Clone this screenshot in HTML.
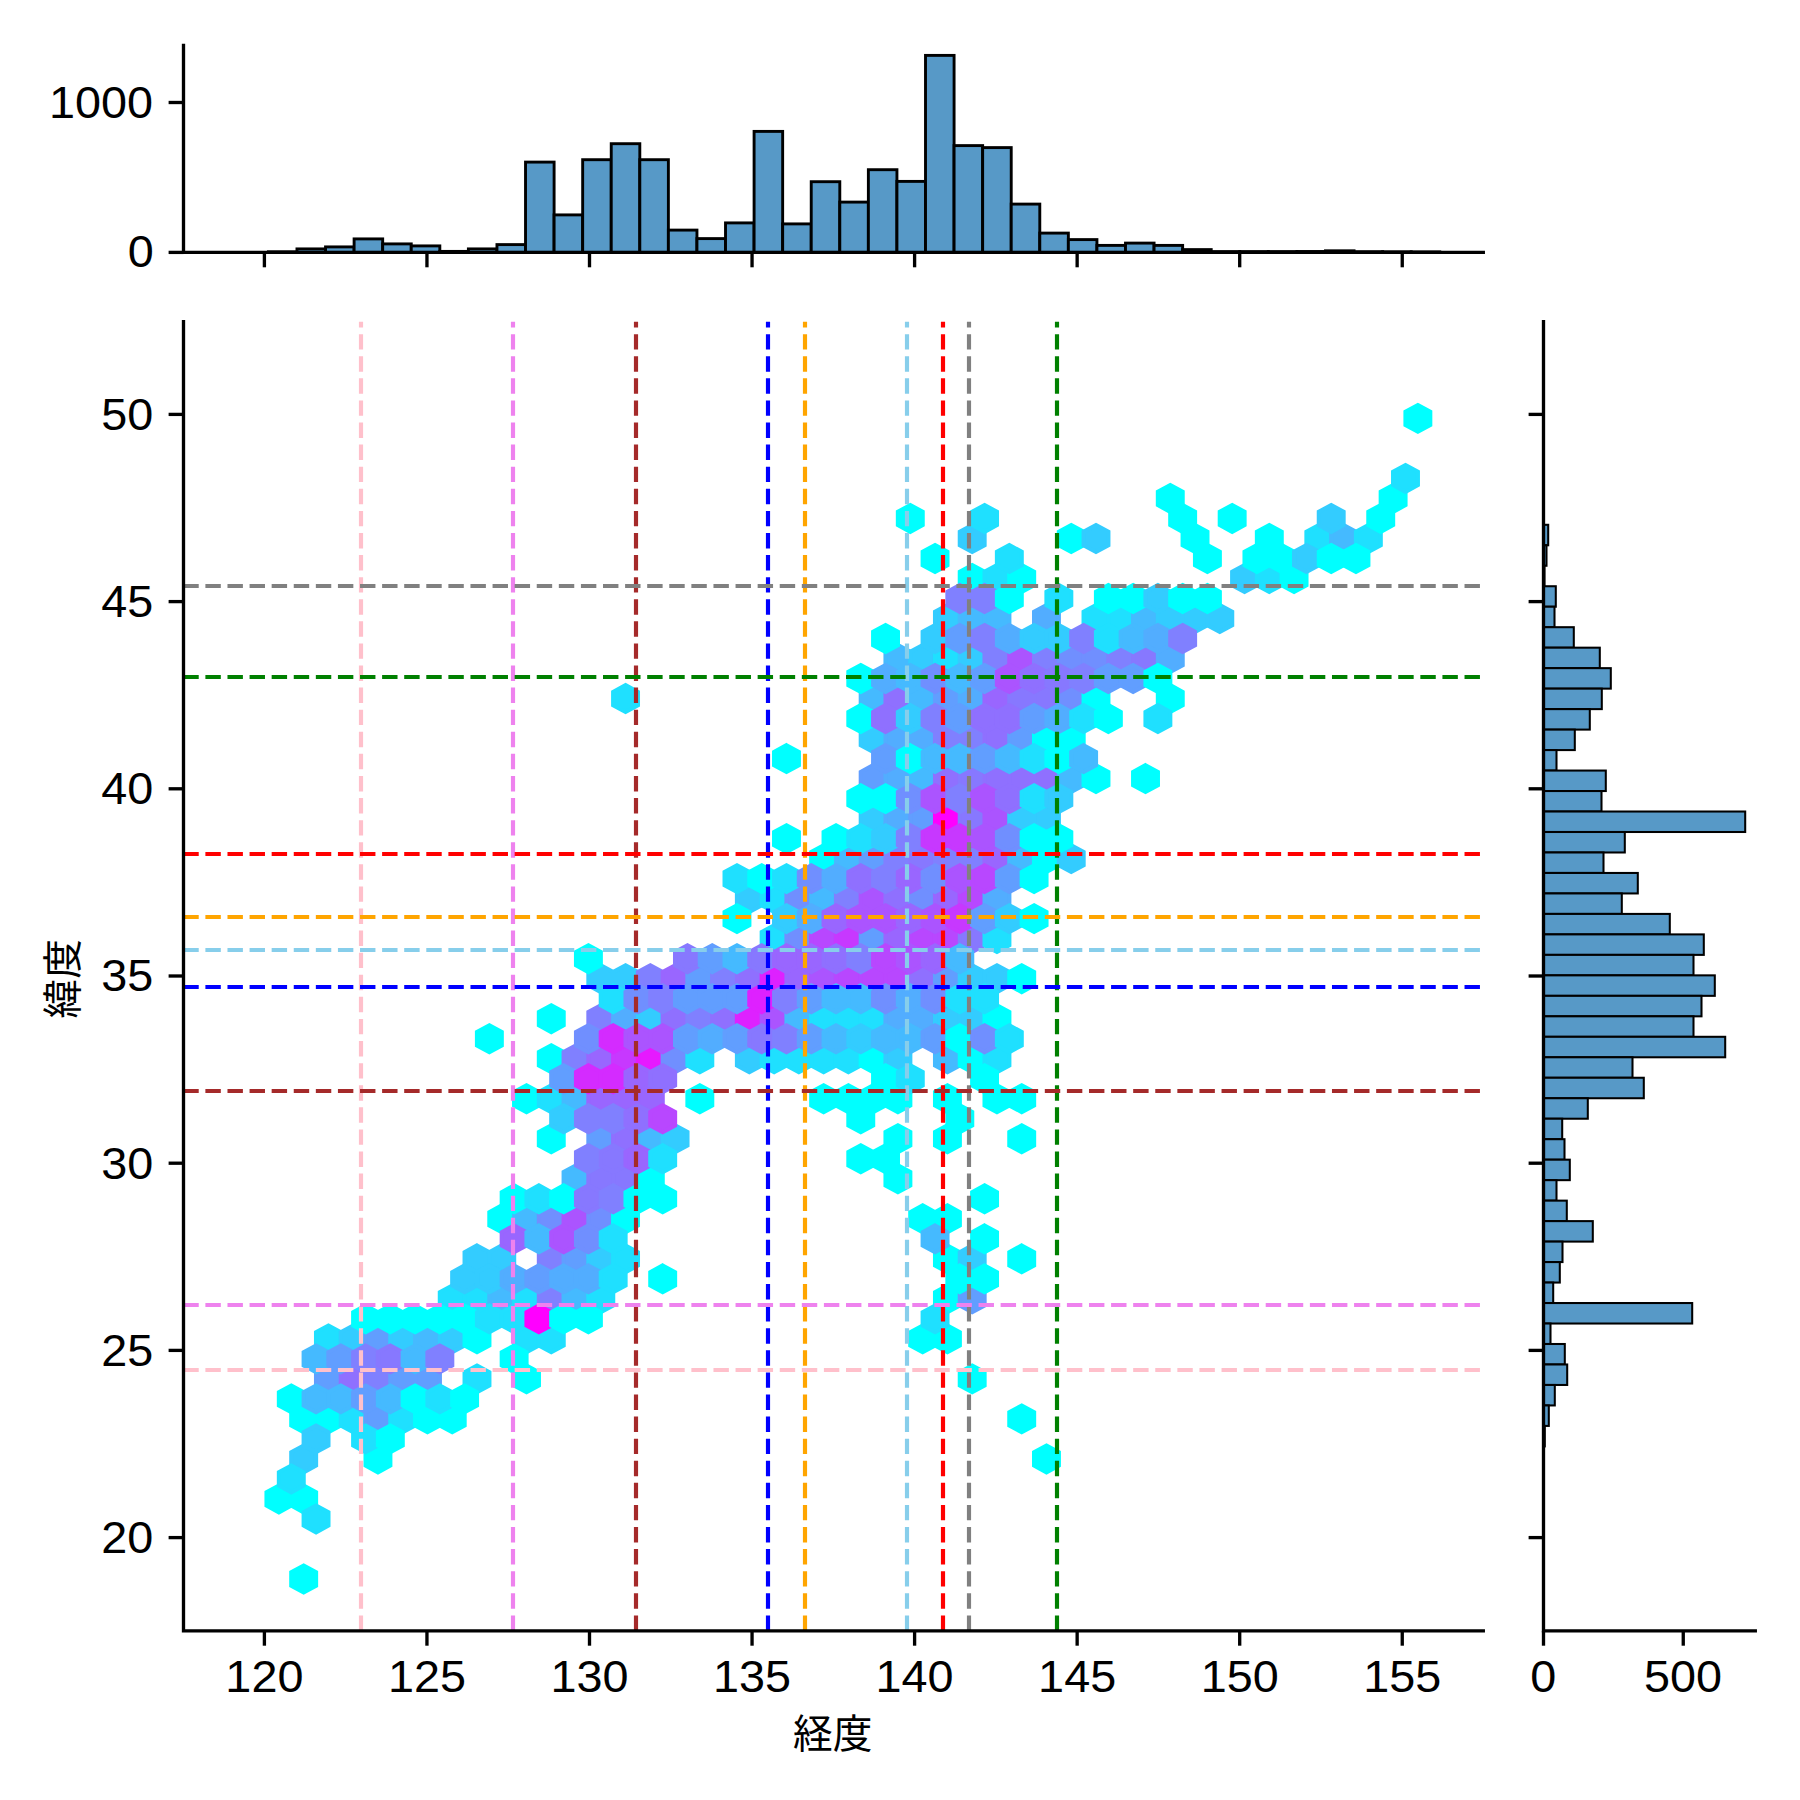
<!DOCTYPE html>
<html lang="ja"><head><meta charset="utf-8"><title>経度 緯度 jointplot</title>
<style>html,body{margin:0;padding:0;background:#fff}svg{display:block}text{font-family:"Liberation Sans", "Noto Sans CJK JP", sans-serif;fill:#000}</style></head><body>
<svg width="1800" height="1800" viewBox="0 0 1800 1800">
<rect width="1800" height="1800" fill="#ffffff"/>
<g stroke-width="4.17" stroke-linejoin="miter">
<path d="M278.91 1485.60l12.38 6.67v13.34l-12.38 6.67l-12.38 -6.67v-13.34z" fill="#00ffff" stroke="#00ffff"/>
<path d="M303.67 1565.64l12.38 6.67v13.34l-12.38 6.67l-12.38 -6.67v-13.34z" fill="#00ffff" stroke="#00ffff"/>
<path d="M303.67 1485.60l12.38 6.67v13.34l-12.38 6.67l-12.38 -6.67v-13.34z" fill="#00ffff" stroke="#00ffff"/>
<path d="M303.67 1445.58l12.38 6.67v13.34l-12.38 6.67l-12.38 -6.67v-13.34z" fill="#33ccff" stroke="#33ccff"/>
<path d="M303.67 1405.56l12.38 6.67v13.34l-12.38 6.67l-12.38 -6.67v-13.34z" fill="#00ffff" stroke="#00ffff"/>
<path d="M328.43 1405.56l12.38 6.67v13.34l-12.38 6.67l-12.38 -6.67v-13.34z" fill="#00ffff" stroke="#00ffff"/>
<path d="M328.43 1365.54l12.38 6.67v13.34l-12.38 6.67l-12.38 -6.67v-13.34z" fill="#619eff" stroke="#619eff"/>
<path d="M328.43 1325.52l12.38 6.67v13.34l-12.38 6.67l-12.38 -6.67v-13.34z" fill="#1fe0ff" stroke="#1fe0ff"/>
<path d="M353.19 1405.56l12.38 6.67v13.34l-12.38 6.67l-12.38 -6.67v-13.34z" fill="#1fe0ff" stroke="#1fe0ff"/>
<path d="M353.19 1365.54l12.38 6.67v13.34l-12.38 6.67l-12.38 -6.67v-13.34z" fill="#8f70ff" stroke="#8f70ff"/>
<path d="M353.19 1325.52l12.38 6.67v13.34l-12.38 6.67l-12.38 -6.67v-13.34z" fill="#33ccff" stroke="#33ccff"/>
<path d="M377.95 1445.58l12.38 6.67v13.34l-12.38 6.67l-12.38 -6.67v-13.34z" fill="#00ffff" stroke="#00ffff"/>
<path d="M377.95 1405.56l12.38 6.67v13.34l-12.38 6.67l-12.38 -6.67v-13.34z" fill="#619eff" stroke="#619eff"/>
<path d="M377.95 1365.54l12.38 6.67v13.34l-12.38 6.67l-12.38 -6.67v-13.34z" fill="#8080ff" stroke="#8080ff"/>
<path d="M377.95 1325.52l12.38 6.67v13.34l-12.38 6.67l-12.38 -6.67v-13.34z" fill="#619eff" stroke="#619eff"/>
<path d="M402.71 1405.56l12.38 6.67v13.34l-12.38 6.67l-12.38 -6.67v-13.34z" fill="#1fe0ff" stroke="#1fe0ff"/>
<path d="M402.71 1365.54l12.38 6.67v13.34l-12.38 6.67l-12.38 -6.67v-13.34z" fill="#619eff" stroke="#619eff"/>
<path d="M402.71 1325.52l12.38 6.67v13.34l-12.38 6.67l-12.38 -6.67v-13.34z" fill="#33ccff" stroke="#33ccff"/>
<path d="M427.47 1405.56l12.38 6.67v13.34l-12.38 6.67l-12.38 -6.67v-13.34z" fill="#00ffff" stroke="#00ffff"/>
<path d="M427.47 1365.54l12.38 6.67v13.34l-12.38 6.67l-12.38 -6.67v-13.34z" fill="#619eff" stroke="#619eff"/>
<path d="M427.47 1325.52l12.38 6.67v13.34l-12.38 6.67l-12.38 -6.67v-13.34z" fill="#45baff" stroke="#45baff"/>
<path d="M452.23 1405.56l12.38 6.67v13.34l-12.38 6.67l-12.38 -6.67v-13.34z" fill="#00ffff" stroke="#00ffff"/>
<path d="M452.23 1325.52l12.38 6.67v13.34l-12.38 6.67l-12.38 -6.67v-13.34z" fill="#33ccff" stroke="#33ccff"/>
<path d="M452.23 1285.50l12.38 6.67v13.34l-12.38 6.67l-12.38 -6.67v-13.34z" fill="#1fe0ff" stroke="#1fe0ff"/>
<path d="M476.99 1365.54l12.38 6.67v13.34l-12.38 6.67l-12.38 -6.67v-13.34z" fill="#1fe0ff" stroke="#1fe0ff"/>
<path d="M476.99 1325.52l12.38 6.67v13.34l-12.38 6.67l-12.38 -6.67v-13.34z" fill="#00ffff" stroke="#00ffff"/>
<path d="M476.99 1285.50l12.38 6.67v13.34l-12.38 6.67l-12.38 -6.67v-13.34z" fill="#1fe0ff" stroke="#1fe0ff"/>
<path d="M476.99 1245.48l12.38 6.67v13.34l-12.38 6.67l-12.38 -6.67v-13.34z" fill="#33ccff" stroke="#33ccff"/>
<path d="M501.75 1285.50l12.38 6.67v13.34l-12.38 6.67l-12.38 -6.67v-13.34z" fill="#45baff" stroke="#45baff"/>
<path d="M501.75 1245.48l12.38 6.67v13.34l-12.38 6.67l-12.38 -6.67v-13.34z" fill="#33ccff" stroke="#33ccff"/>
<path d="M501.75 1205.46l12.38 6.67v13.34l-12.38 6.67l-12.38 -6.67v-13.34z" fill="#00ffff" stroke="#00ffff"/>
<path d="M526.51 1365.54l12.38 6.67v13.34l-12.38 6.67l-12.38 -6.67v-13.34z" fill="#00ffff" stroke="#00ffff"/>
<path d="M526.51 1325.52l12.38 6.67v13.34l-12.38 6.67l-12.38 -6.67v-13.34z" fill="#1fe0ff" stroke="#1fe0ff"/>
<path d="M526.51 1285.50l12.38 6.67v13.34l-12.38 6.67l-12.38 -6.67v-13.34z" fill="#1fe0ff" stroke="#1fe0ff"/>
<path d="M526.51 1205.46l12.38 6.67v13.34l-12.38 6.67l-12.38 -6.67v-13.34z" fill="#45baff" stroke="#45baff"/>
<path d="M526.51 1085.40l12.38 6.67v13.34l-12.38 6.67l-12.38 -6.67v-13.34z" fill="#00ffff" stroke="#00ffff"/>
<path d="M551.27 1325.52l12.38 6.67v13.34l-12.38 6.67l-12.38 -6.67v-13.34z" fill="#1fe0ff" stroke="#1fe0ff"/>
<path d="M551.27 1285.50l12.38 6.67v13.34l-12.38 6.67l-12.38 -6.67v-13.34z" fill="#8080ff" stroke="#8080ff"/>
<path d="M551.27 1245.48l12.38 6.67v13.34l-12.38 6.67l-12.38 -6.67v-13.34z" fill="#8080ff" stroke="#8080ff"/>
<path d="M551.27 1205.46l12.38 6.67v13.34l-12.38 6.67l-12.38 -6.67v-13.34z" fill="#708fff" stroke="#708fff"/>
<path d="M551.27 1125.42l12.38 6.67v13.34l-12.38 6.67l-12.38 -6.67v-13.34z" fill="#00ffff" stroke="#00ffff"/>
<path d="M551.27 1085.40l12.38 6.67v13.34l-12.38 6.67l-12.38 -6.67v-13.34z" fill="#1fe0ff" stroke="#1fe0ff"/>
<path d="M551.27 1045.38l12.38 6.67v13.34l-12.38 6.67l-12.38 -6.67v-13.34z" fill="#00ffff" stroke="#00ffff"/>
<path d="M551.27 1005.36l12.38 6.67v13.34l-12.38 6.67l-12.38 -6.67v-13.34z" fill="#00ffff" stroke="#00ffff"/>
<path d="M576.03 1285.50l12.38 6.67v13.34l-12.38 6.67l-12.38 -6.67v-13.34z" fill="#45baff" stroke="#45baff"/>
<path d="M576.03 1245.48l12.38 6.67v13.34l-12.38 6.67l-12.38 -6.67v-13.34z" fill="#619eff" stroke="#619eff"/>
<path d="M576.03 1205.46l12.38 6.67v13.34l-12.38 6.67l-12.38 -6.67v-13.34z" fill="#ab54ff" stroke="#ab54ff"/>
<path d="M576.03 1165.44l12.38 6.67v13.34l-12.38 6.67l-12.38 -6.67v-13.34z" fill="#45baff" stroke="#45baff"/>
<path d="M576.03 1085.40l12.38 6.67v13.34l-12.38 6.67l-12.38 -6.67v-13.34z" fill="#45baff" stroke="#45baff"/>
<path d="M576.03 1045.38l12.38 6.67v13.34l-12.38 6.67l-12.38 -6.67v-13.34z" fill="#8080ff" stroke="#8080ff"/>
<path d="M600.79 1285.50l12.38 6.67v13.34l-12.38 6.67l-12.38 -6.67v-13.34z" fill="#1fe0ff" stroke="#1fe0ff"/>
<path d="M600.79 1245.48l12.38 6.67v13.34l-12.38 6.67l-12.38 -6.67v-13.34z" fill="#33ccff" stroke="#33ccff"/>
<path d="M600.79 1205.46l12.38 6.67v13.34l-12.38 6.67l-12.38 -6.67v-13.34z" fill="#708fff" stroke="#708fff"/>
<path d="M600.79 1165.44l12.38 6.67v13.34l-12.38 6.67l-12.38 -6.67v-13.34z" fill="#8778ff" stroke="#8778ff"/>
<path d="M600.79 1125.42l12.38 6.67v13.34l-12.38 6.67l-12.38 -6.67v-13.34z" fill="#619eff" stroke="#619eff"/>
<path d="M600.79 1085.40l12.38 6.67v13.34l-12.38 6.67l-12.38 -6.67v-13.34z" fill="#9966ff" stroke="#9966ff"/>
<path d="M600.79 1045.38l12.38 6.67v13.34l-12.38 6.67l-12.38 -6.67v-13.34z" fill="#9966ff" stroke="#9966ff"/>
<path d="M600.79 1005.36l12.38 6.67v13.34l-12.38 6.67l-12.38 -6.67v-13.34z" fill="#8080ff" stroke="#8080ff"/>
<path d="M600.79 965.34l12.38 6.67v13.34l-12.38 6.67l-12.38 -6.67v-13.34z" fill="#33ccff" stroke="#33ccff"/>
<path d="M625.55 1245.48l12.38 6.67v13.34l-12.38 6.67l-12.38 -6.67v-13.34z" fill="#1fe0ff" stroke="#1fe0ff"/>
<path d="M625.55 1205.46l12.38 6.67v13.34l-12.38 6.67l-12.38 -6.67v-13.34z" fill="#00ffff" stroke="#00ffff"/>
<path d="M625.55 1165.44l12.38 6.67v13.34l-12.38 6.67l-12.38 -6.67v-13.34z" fill="#8778ff" stroke="#8778ff"/>
<path d="M625.55 1125.42l12.38 6.67v13.34l-12.38 6.67l-12.38 -6.67v-13.34z" fill="#8f70ff" stroke="#8f70ff"/>
<path d="M625.55 1085.40l12.38 6.67v13.34l-12.38 6.67l-12.38 -6.67v-13.34z" fill="#9966ff" stroke="#9966ff"/>
<path d="M625.55 1045.38l12.38 6.67v13.34l-12.38 6.67l-12.38 -6.67v-13.34z" fill="#c738ff" stroke="#c738ff"/>
<path d="M625.55 1005.36l12.38 6.67v13.34l-12.38 6.67l-12.38 -6.67v-13.34z" fill="#52adff" stroke="#52adff"/>
<path d="M625.55 965.34l12.38 6.67v13.34l-12.38 6.67l-12.38 -6.67v-13.34z" fill="#33ccff" stroke="#33ccff"/>
<path d="M625.55 685.20l12.38 6.67v13.34l-12.38 6.67l-12.38 -6.67v-13.34z" fill="#1fe0ff" stroke="#1fe0ff"/>
<path d="M650.31 1165.44l12.38 6.67v13.34l-12.38 6.67l-12.38 -6.67v-13.34z" fill="#00ffff" stroke="#00ffff"/>
<path d="M650.31 1125.42l12.38 6.67v13.34l-12.38 6.67l-12.38 -6.67v-13.34z" fill="#45baff" stroke="#45baff"/>
<path d="M650.31 1085.40l12.38 6.67v13.34l-12.38 6.67l-12.38 -6.67v-13.34z" fill="#9966ff" stroke="#9966ff"/>
<path d="M650.31 1045.38l12.38 6.67v13.34l-12.38 6.67l-12.38 -6.67v-13.34z" fill="#e619ff" stroke="#e619ff"/>
<path d="M650.31 1005.36l12.38 6.67v13.34l-12.38 6.67l-12.38 -6.67v-13.34z" fill="#33ccff" stroke="#33ccff"/>
<path d="M650.31 965.34l12.38 6.67v13.34l-12.38 6.67l-12.38 -6.67v-13.34z" fill="#8080ff" stroke="#8080ff"/>
<path d="M675.07 1125.42l12.38 6.67v13.34l-12.38 6.67l-12.38 -6.67v-13.34z" fill="#33ccff" stroke="#33ccff"/>
<path d="M675.07 1045.38l12.38 6.67v13.34l-12.38 6.67l-12.38 -6.67v-13.34z" fill="#708fff" stroke="#708fff"/>
<path d="M675.07 1005.36l12.38 6.67v13.34l-12.38 6.67l-12.38 -6.67v-13.34z" fill="#8f70ff" stroke="#8f70ff"/>
<path d="M675.07 965.34l12.38 6.67v13.34l-12.38 6.67l-12.38 -6.67v-13.34z" fill="#9966ff" stroke="#9966ff"/>
<path d="M699.83 1085.40l12.38 6.67v13.34l-12.38 6.67l-12.38 -6.67v-13.34z" fill="#00ffff" stroke="#00ffff"/>
<path d="M699.83 1045.38l12.38 6.67v13.34l-12.38 6.67l-12.38 -6.67v-13.34z" fill="#1fe0ff" stroke="#1fe0ff"/>
<path d="M699.83 1005.36l12.38 6.67v13.34l-12.38 6.67l-12.38 -6.67v-13.34z" fill="#8080ff" stroke="#8080ff"/>
<path d="M699.83 965.34l12.38 6.67v13.34l-12.38 6.67l-12.38 -6.67v-13.34z" fill="#619eff" stroke="#619eff"/>
<path d="M724.59 1005.36l12.38 6.67v13.34l-12.38 6.67l-12.38 -6.67v-13.34z" fill="#8f70ff" stroke="#8f70ff"/>
<path d="M724.59 965.34l12.38 6.67v13.34l-12.38 6.67l-12.38 -6.67v-13.34z" fill="#8080ff" stroke="#8080ff"/>
<path d="M749.35 1045.38l12.38 6.67v13.34l-12.38 6.67l-12.38 -6.67v-13.34z" fill="#33ccff" stroke="#33ccff"/>
<path d="M749.35 1005.36l12.38 6.67v13.34l-12.38 6.67l-12.38 -6.67v-13.34z" fill="#de21ff" stroke="#de21ff"/>
<path d="M749.35 965.34l12.38 6.67v13.34l-12.38 6.67l-12.38 -6.67v-13.34z" fill="#8f70ff" stroke="#8f70ff"/>
<path d="M749.35 885.30l12.38 6.67v13.34l-12.38 6.67l-12.38 -6.67v-13.34z" fill="#33ccff" stroke="#33ccff"/>
<path d="M774.11 1045.38l12.38 6.67v13.34l-12.38 6.67l-12.38 -6.67v-13.34z" fill="#1fe0ff" stroke="#1fe0ff"/>
<path d="M774.11 1005.36l12.38 6.67v13.34l-12.38 6.67l-12.38 -6.67v-13.34z" fill="#ab54ff" stroke="#ab54ff"/>
<path d="M774.11 965.34l12.38 6.67v13.34l-12.38 6.67l-12.38 -6.67v-13.34z" fill="#de21ff" stroke="#de21ff"/>
<path d="M774.11 925.32l12.38 6.67v13.34l-12.38 6.67l-12.38 -6.67v-13.34z" fill="#1fe0ff" stroke="#1fe0ff"/>
<path d="M774.11 885.30l12.38 6.67v13.34l-12.38 6.67l-12.38 -6.67v-13.34z" fill="#1fe0ff" stroke="#1fe0ff"/>
<path d="M798.87 1045.38l12.38 6.67v13.34l-12.38 6.67l-12.38 -6.67v-13.34z" fill="#1fe0ff" stroke="#1fe0ff"/>
<path d="M798.87 1005.36l12.38 6.67v13.34l-12.38 6.67l-12.38 -6.67v-13.34z" fill="#45baff" stroke="#45baff"/>
<path d="M798.87 965.34l12.38 6.67v13.34l-12.38 6.67l-12.38 -6.67v-13.34z" fill="#9966ff" stroke="#9966ff"/>
<path d="M798.87 925.32l12.38 6.67v13.34l-12.38 6.67l-12.38 -6.67v-13.34z" fill="#708fff" stroke="#708fff"/>
<path d="M798.87 885.30l12.38 6.67v13.34l-12.38 6.67l-12.38 -6.67v-13.34z" fill="#708fff" stroke="#708fff"/>
<path d="M823.63 1085.40l12.38 6.67v13.34l-12.38 6.67l-12.38 -6.67v-13.34z" fill="#00ffff" stroke="#00ffff"/>
<path d="M823.63 1045.38l12.38 6.67v13.34l-12.38 6.67l-12.38 -6.67v-13.34z" fill="#1fe0ff" stroke="#1fe0ff"/>
<path d="M823.63 1005.36l12.38 6.67v13.34l-12.38 6.67l-12.38 -6.67v-13.34z" fill="#1fe0ff" stroke="#1fe0ff"/>
<path d="M823.63 965.34l12.38 6.67v13.34l-12.38 6.67l-12.38 -6.67v-13.34z" fill="#ab54ff" stroke="#ab54ff"/>
<path d="M823.63 925.32l12.38 6.67v13.34l-12.38 6.67l-12.38 -6.67v-13.34z" fill="#b847ff" stroke="#b847ff"/>
<path d="M823.63 885.30l12.38 6.67v13.34l-12.38 6.67l-12.38 -6.67v-13.34z" fill="#45baff" stroke="#45baff"/>
<path d="M823.63 845.28l12.38 6.67v13.34l-12.38 6.67l-12.38 -6.67v-13.34z" fill="#00ffff" stroke="#00ffff"/>
<path d="M848.39 1085.40l12.38 6.67v13.34l-12.38 6.67l-12.38 -6.67v-13.34z" fill="#00ffff" stroke="#00ffff"/>
<path d="M848.39 1045.38l12.38 6.67v13.34l-12.38 6.67l-12.38 -6.67v-13.34z" fill="#1fe0ff" stroke="#1fe0ff"/>
<path d="M848.39 1005.36l12.38 6.67v13.34l-12.38 6.67l-12.38 -6.67v-13.34z" fill="#1fe0ff" stroke="#1fe0ff"/>
<path d="M848.39 965.34l12.38 6.67v13.34l-12.38 6.67l-12.38 -6.67v-13.34z" fill="#b847ff" stroke="#b847ff"/>
<path d="M848.39 925.32l12.38 6.67v13.34l-12.38 6.67l-12.38 -6.67v-13.34z" fill="#c738ff" stroke="#c738ff"/>
<path d="M848.39 885.30l12.38 6.67v13.34l-12.38 6.67l-12.38 -6.67v-13.34z" fill="#8080ff" stroke="#8080ff"/>
<path d="M848.39 845.28l12.38 6.67v13.34l-12.38 6.67l-12.38 -6.67v-13.34z" fill="#45baff" stroke="#45baff"/>
<path d="M873.15 1085.40l12.38 6.67v13.34l-12.38 6.67l-12.38 -6.67v-13.34z" fill="#00ffff" stroke="#00ffff"/>
<path d="M873.15 1045.38l12.38 6.67v13.34l-12.38 6.67l-12.38 -6.67v-13.34z" fill="#00ffff" stroke="#00ffff"/>
<path d="M873.15 1005.36l12.38 6.67v13.34l-12.38 6.67l-12.38 -6.67v-13.34z" fill="#1fe0ff" stroke="#1fe0ff"/>
<path d="M873.15 965.34l12.38 6.67v13.34l-12.38 6.67l-12.38 -6.67v-13.34z" fill="#b847ff" stroke="#b847ff"/>
<path d="M873.15 925.32l12.38 6.67v13.34l-12.38 6.67l-12.38 -6.67v-13.34z" fill="#619eff" stroke="#619eff"/>
<path d="M873.15 885.30l12.38 6.67v13.34l-12.38 6.67l-12.38 -6.67v-13.34z" fill="#ab54ff" stroke="#ab54ff"/>
<path d="M873.15 845.28l12.38 6.67v13.34l-12.38 6.67l-12.38 -6.67v-13.34z" fill="#619eff" stroke="#619eff"/>
<path d="M873.15 805.26l12.38 6.67v13.34l-12.38 6.67l-12.38 -6.67v-13.34z" fill="#33ccff" stroke="#33ccff"/>
<path d="M873.15 765.24l12.38 6.67v13.34l-12.38 6.67l-12.38 -6.67v-13.34z" fill="#619eff" stroke="#619eff"/>
<path d="M873.15 725.22l12.38 6.67v13.34l-12.38 6.67l-12.38 -6.67v-13.34z" fill="#33ccff" stroke="#33ccff"/>
<path d="M873.15 685.20l12.38 6.67v13.34l-12.38 6.67l-12.38 -6.67v-13.34z" fill="#45baff" stroke="#45baff"/>
<path d="M897.91 1165.44l12.38 6.67v13.34l-12.38 6.67l-12.38 -6.67v-13.34z" fill="#00ffff" stroke="#00ffff"/>
<path d="M897.91 1125.42l12.38 6.67v13.34l-12.38 6.67l-12.38 -6.67v-13.34z" fill="#00ffff" stroke="#00ffff"/>
<path d="M897.91 1085.40l12.38 6.67v13.34l-12.38 6.67l-12.38 -6.67v-13.34z" fill="#00ffff" stroke="#00ffff"/>
<path d="M897.91 1045.38l12.38 6.67v13.34l-12.38 6.67l-12.38 -6.67v-13.34z" fill="#33ccff" stroke="#33ccff"/>
<path d="M897.91 1005.36l12.38 6.67v13.34l-12.38 6.67l-12.38 -6.67v-13.34z" fill="#52adff" stroke="#52adff"/>
<path d="M897.91 965.34l12.38 6.67v13.34l-12.38 6.67l-12.38 -6.67v-13.34z" fill="#b847ff" stroke="#b847ff"/>
<path d="M897.91 925.32l12.38 6.67v13.34l-12.38 6.67l-12.38 -6.67v-13.34z" fill="#9966ff" stroke="#9966ff"/>
<path d="M897.91 885.30l12.38 6.67v13.34l-12.38 6.67l-12.38 -6.67v-13.34z" fill="#8f70ff" stroke="#8f70ff"/>
<path d="M897.91 845.28l12.38 6.67v13.34l-12.38 6.67l-12.38 -6.67v-13.34z" fill="#8080ff" stroke="#8080ff"/>
<path d="M897.91 805.26l12.38 6.67v13.34l-12.38 6.67l-12.38 -6.67v-13.34z" fill="#52adff" stroke="#52adff"/>
<path d="M897.91 765.24l12.38 6.67v13.34l-12.38 6.67l-12.38 -6.67v-13.34z" fill="#52adff" stroke="#52adff"/>
<path d="M897.91 725.22l12.38 6.67v13.34l-12.38 6.67l-12.38 -6.67v-13.34z" fill="#52adff" stroke="#52adff"/>
<path d="M897.91 685.20l12.38 6.67v13.34l-12.38 6.67l-12.38 -6.67v-13.34z" fill="#8f70ff" stroke="#8f70ff"/>
<path d="M897.91 645.18l12.38 6.67v13.34l-12.38 6.67l-12.38 -6.67v-13.34z" fill="#45baff" stroke="#45baff"/>
<path d="M922.67 1325.52l12.38 6.67v13.34l-12.38 6.67l-12.38 -6.67v-13.34z" fill="#00ffff" stroke="#00ffff"/>
<path d="M922.67 1205.46l12.38 6.67v13.34l-12.38 6.67l-12.38 -6.67v-13.34z" fill="#00ffff" stroke="#00ffff"/>
<path d="M922.67 1005.36l12.38 6.67v13.34l-12.38 6.67l-12.38 -6.67v-13.34z" fill="#52adff" stroke="#52adff"/>
<path d="M922.67 965.34l12.38 6.67v13.34l-12.38 6.67l-12.38 -6.67v-13.34z" fill="#8f70ff" stroke="#8f70ff"/>
<path d="M922.67 925.32l12.38 6.67v13.34l-12.38 6.67l-12.38 -6.67v-13.34z" fill="#b847ff" stroke="#b847ff"/>
<path d="M922.67 885.30l12.38 6.67v13.34l-12.38 6.67l-12.38 -6.67v-13.34z" fill="#708fff" stroke="#708fff"/>
<path d="M922.67 845.28l12.38 6.67v13.34l-12.38 6.67l-12.38 -6.67v-13.34z" fill="#8778ff" stroke="#8778ff"/>
<path d="M922.67 805.26l12.38 6.67v13.34l-12.38 6.67l-12.38 -6.67v-13.34z" fill="#619eff" stroke="#619eff"/>
<path d="M922.67 765.24l12.38 6.67v13.34l-12.38 6.67l-12.38 -6.67v-13.34z" fill="#45baff" stroke="#45baff"/>
<path d="M922.67 725.22l12.38 6.67v13.34l-12.38 6.67l-12.38 -6.67v-13.34z" fill="#52adff" stroke="#52adff"/>
<path d="M922.67 685.20l12.38 6.67v13.34l-12.38 6.67l-12.38 -6.67v-13.34z" fill="#45baff" stroke="#45baff"/>
<path d="M922.67 645.18l12.38 6.67v13.34l-12.38 6.67l-12.38 -6.67v-13.34z" fill="#33ccff" stroke="#33ccff"/>
<path d="M947.43 1325.52l12.38 6.67v13.34l-12.38 6.67l-12.38 -6.67v-13.34z" fill="#00ffff" stroke="#00ffff"/>
<path d="M947.43 1285.50l12.38 6.67v13.34l-12.38 6.67l-12.38 -6.67v-13.34z" fill="#00ffff" stroke="#00ffff"/>
<path d="M947.43 1245.48l12.38 6.67v13.34l-12.38 6.67l-12.38 -6.67v-13.34z" fill="#00ffff" stroke="#00ffff"/>
<path d="M947.43 1205.46l12.38 6.67v13.34l-12.38 6.67l-12.38 -6.67v-13.34z" fill="#00ffff" stroke="#00ffff"/>
<path d="M947.43 1125.42l12.38 6.67v13.34l-12.38 6.67l-12.38 -6.67v-13.34z" fill="#00ffff" stroke="#00ffff"/>
<path d="M947.43 1085.40l12.38 6.67v13.34l-12.38 6.67l-12.38 -6.67v-13.34z" fill="#00ffff" stroke="#00ffff"/>
<path d="M947.43 1045.38l12.38 6.67v13.34l-12.38 6.67l-12.38 -6.67v-13.34z" fill="#45baff" stroke="#45baff"/>
<path d="M947.43 1005.36l12.38 6.67v13.34l-12.38 6.67l-12.38 -6.67v-13.34z" fill="#33ccff" stroke="#33ccff"/>
<path d="M947.43 965.34l12.38 6.67v13.34l-12.38 6.67l-12.38 -6.67v-13.34z" fill="#619eff" stroke="#619eff"/>
<path d="M947.43 925.32l12.38 6.67v13.34l-12.38 6.67l-12.38 -6.67v-13.34z" fill="#b847ff" stroke="#b847ff"/>
<path d="M947.43 885.30l12.38 6.67v13.34l-12.38 6.67l-12.38 -6.67v-13.34z" fill="#9966ff" stroke="#9966ff"/>
<path d="M947.43 845.28l12.38 6.67v13.34l-12.38 6.67l-12.38 -6.67v-13.34z" fill="#8080ff" stroke="#8080ff"/>
<path d="M947.43 805.26l12.38 6.67v13.34l-12.38 6.67l-12.38 -6.67v-13.34z" fill="#ff00ff" stroke="#ff00ff"/>
<path d="M947.43 765.24l12.38 6.67v13.34l-12.38 6.67l-12.38 -6.67v-13.34z" fill="#8f70ff" stroke="#8f70ff"/>
<path d="M947.43 725.22l12.38 6.67v13.34l-12.38 6.67l-12.38 -6.67v-13.34z" fill="#8080ff" stroke="#8080ff"/>
<path d="M947.43 685.20l12.38 6.67v13.34l-12.38 6.67l-12.38 -6.67v-13.34z" fill="#619eff" stroke="#619eff"/>
<path d="M947.43 645.18l12.38 6.67v13.34l-12.38 6.67l-12.38 -6.67v-13.34z" fill="#1fe0ff" stroke="#1fe0ff"/>
<path d="M947.43 605.16l12.38 6.67v13.34l-12.38 6.67l-12.38 -6.67v-13.34z" fill="#33ccff" stroke="#33ccff"/>
<path d="M972.19 1365.54l12.38 6.67v13.34l-12.38 6.67l-12.38 -6.67v-13.34z" fill="#00ffff" stroke="#00ffff"/>
<path d="M972.19 1285.50l12.38 6.67v13.34l-12.38 6.67l-12.38 -6.67v-13.34z" fill="#619eff" stroke="#619eff"/>
<path d="M972.19 1245.48l12.38 6.67v13.34l-12.38 6.67l-12.38 -6.67v-13.34z" fill="#33ccff" stroke="#33ccff"/>
<path d="M972.19 1045.38l12.38 6.67v13.34l-12.38 6.67l-12.38 -6.67v-13.34z" fill="#00ffff" stroke="#00ffff"/>
<path d="M972.19 1005.36l12.38 6.67v13.34l-12.38 6.67l-12.38 -6.67v-13.34z" fill="#33ccff" stroke="#33ccff"/>
<path d="M972.19 965.34l12.38 6.67v13.34l-12.38 6.67l-12.38 -6.67v-13.34z" fill="#33ccff" stroke="#33ccff"/>
<path d="M972.19 925.32l12.38 6.67v13.34l-12.38 6.67l-12.38 -6.67v-13.34z" fill="#8778ff" stroke="#8778ff"/>
<path d="M972.19 885.30l12.38 6.67v13.34l-12.38 6.67l-12.38 -6.67v-13.34z" fill="#b847ff" stroke="#b847ff"/>
<path d="M972.19 845.28l12.38 6.67v13.34l-12.38 6.67l-12.38 -6.67v-13.34z" fill="#8080ff" stroke="#8080ff"/>
<path d="M972.19 805.26l12.38 6.67v13.34l-12.38 6.67l-12.38 -6.67v-13.34z" fill="#8778ff" stroke="#8778ff"/>
<path d="M972.19 765.24l12.38 6.67v13.34l-12.38 6.67l-12.38 -6.67v-13.34z" fill="#8778ff" stroke="#8778ff"/>
<path d="M972.19 725.22l12.38 6.67v13.34l-12.38 6.67l-12.38 -6.67v-13.34z" fill="#8080ff" stroke="#8080ff"/>
<path d="M972.19 685.20l12.38 6.67v13.34l-12.38 6.67l-12.38 -6.67v-13.34z" fill="#52adff" stroke="#52adff"/>
<path d="M972.19 645.18l12.38 6.67v13.34l-12.38 6.67l-12.38 -6.67v-13.34z" fill="#33ccff" stroke="#33ccff"/>
<path d="M972.19 605.16l12.38 6.67v13.34l-12.38 6.67l-12.38 -6.67v-13.34z" fill="#45baff" stroke="#45baff"/>
<path d="M972.19 565.14l12.38 6.67v13.34l-12.38 6.67l-12.38 -6.67v-13.34z" fill="#00ffff" stroke="#00ffff"/>
<path d="M972.19 525.12l12.38 6.67v13.34l-12.38 6.67l-12.38 -6.67v-13.34z" fill="#33ccff" stroke="#33ccff"/>
<path d="M996.95 1085.40l12.38 6.67v13.34l-12.38 6.67l-12.38 -6.67v-13.34z" fill="#00ffff" stroke="#00ffff"/>
<path d="M996.95 1045.38l12.38 6.67v13.34l-12.38 6.67l-12.38 -6.67v-13.34z" fill="#1fe0ff" stroke="#1fe0ff"/>
<path d="M996.95 1005.36l12.38 6.67v13.34l-12.38 6.67l-12.38 -6.67v-13.34z" fill="#00ffff" stroke="#00ffff"/>
<path d="M996.95 965.34l12.38 6.67v13.34l-12.38 6.67l-12.38 -6.67v-13.34z" fill="#33ccff" stroke="#33ccff"/>
<path d="M996.95 925.32l12.38 6.67v13.34l-12.38 6.67l-12.38 -6.67v-13.34z" fill="#1fe0ff" stroke="#1fe0ff"/>
<path d="M996.95 885.30l12.38 6.67v13.34l-12.38 6.67l-12.38 -6.67v-13.34z" fill="#52adff" stroke="#52adff"/>
<path d="M996.95 845.28l12.38 6.67v13.34l-12.38 6.67l-12.38 -6.67v-13.34z" fill="#9966ff" stroke="#9966ff"/>
<path d="M996.95 805.26l12.38 6.67v13.34l-12.38 6.67l-12.38 -6.67v-13.34z" fill="#ab54ff" stroke="#ab54ff"/>
<path d="M996.95 765.24l12.38 6.67v13.34l-12.38 6.67l-12.38 -6.67v-13.34z" fill="#8f70ff" stroke="#8f70ff"/>
<path d="M996.95 725.22l12.38 6.67v13.34l-12.38 6.67l-12.38 -6.67v-13.34z" fill="#8f70ff" stroke="#8f70ff"/>
<path d="M996.95 685.20l12.38 6.67v13.34l-12.38 6.67l-12.38 -6.67v-13.34z" fill="#9966ff" stroke="#9966ff"/>
<path d="M996.95 645.18l12.38 6.67v13.34l-12.38 6.67l-12.38 -6.67v-13.34z" fill="#8080ff" stroke="#8080ff"/>
<path d="M996.95 605.16l12.38 6.67v13.34l-12.38 6.67l-12.38 -6.67v-13.34z" fill="#45baff" stroke="#45baff"/>
<path d="M996.95 565.14l12.38 6.67v13.34l-12.38 6.67l-12.38 -6.67v-13.34z" fill="#1fe0ff" stroke="#1fe0ff"/>
<path d="M1021.71 1405.56l12.38 6.67v13.34l-12.38 6.67l-12.38 -6.67v-13.34z" fill="#00ffff" stroke="#00ffff"/>
<path d="M1021.71 1245.48l12.38 6.67v13.34l-12.38 6.67l-12.38 -6.67v-13.34z" fill="#00ffff" stroke="#00ffff"/>
<path d="M1021.71 1125.42l12.38 6.67v13.34l-12.38 6.67l-12.38 -6.67v-13.34z" fill="#00ffff" stroke="#00ffff"/>
<path d="M1021.71 1085.40l12.38 6.67v13.34l-12.38 6.67l-12.38 -6.67v-13.34z" fill="#00ffff" stroke="#00ffff"/>
<path d="M1021.71 965.34l12.38 6.67v13.34l-12.38 6.67l-12.38 -6.67v-13.34z" fill="#00ffff" stroke="#00ffff"/>
<path d="M1021.71 845.28l12.38 6.67v13.34l-12.38 6.67l-12.38 -6.67v-13.34z" fill="#45baff" stroke="#45baff"/>
<path d="M1021.71 805.26l12.38 6.67v13.34l-12.38 6.67l-12.38 -6.67v-13.34z" fill="#33ccff" stroke="#33ccff"/>
<path d="M1021.71 765.24l12.38 6.67v13.34l-12.38 6.67l-12.38 -6.67v-13.34z" fill="#8f70ff" stroke="#8f70ff"/>
<path d="M1021.71 725.22l12.38 6.67v13.34l-12.38 6.67l-12.38 -6.67v-13.34z" fill="#619eff" stroke="#619eff"/>
<path d="M1021.71 685.20l12.38 6.67v13.34l-12.38 6.67l-12.38 -6.67v-13.34z" fill="#8778ff" stroke="#8778ff"/>
<path d="M1021.71 645.18l12.38 6.67v13.34l-12.38 6.67l-12.38 -6.67v-13.34z" fill="#ab54ff" stroke="#ab54ff"/>
<path d="M1021.71 565.14l12.38 6.67v13.34l-12.38 6.67l-12.38 -6.67v-13.34z" fill="#00ffff" stroke="#00ffff"/>
<path d="M1046.47 1445.58l12.38 6.67v13.34l-12.38 6.67l-12.38 -6.67v-13.34z" fill="#00ffff" stroke="#00ffff"/>
<path d="M1046.47 845.28l12.38 6.67v13.34l-12.38 6.67l-12.38 -6.67v-13.34z" fill="#00ffff" stroke="#00ffff"/>
<path d="M1046.47 805.26l12.38 6.67v13.34l-12.38 6.67l-12.38 -6.67v-13.34z" fill="#33ccff" stroke="#33ccff"/>
<path d="M1046.47 765.24l12.38 6.67v13.34l-12.38 6.67l-12.38 -6.67v-13.34z" fill="#8f70ff" stroke="#8f70ff"/>
<path d="M1046.47 725.22l12.38 6.67v13.34l-12.38 6.67l-12.38 -6.67v-13.34z" fill="#00ffff" stroke="#00ffff"/>
<path d="M1046.47 685.20l12.38 6.67v13.34l-12.38 6.67l-12.38 -6.67v-13.34z" fill="#8778ff" stroke="#8778ff"/>
<path d="M1046.47 645.18l12.38 6.67v13.34l-12.38 6.67l-12.38 -6.67v-13.34z" fill="#8080ff" stroke="#8080ff"/>
<path d="M1046.47 605.16l12.38 6.67v13.34l-12.38 6.67l-12.38 -6.67v-13.34z" fill="#52adff" stroke="#52adff"/>
<path d="M1071.23 845.28l12.38 6.67v13.34l-12.38 6.67l-12.38 -6.67v-13.34z" fill="#33ccff" stroke="#33ccff"/>
<path d="M1071.23 765.24l12.38 6.67v13.34l-12.38 6.67l-12.38 -6.67v-13.34z" fill="#45baff" stroke="#45baff"/>
<path d="M1071.23 725.22l12.38 6.67v13.34l-12.38 6.67l-12.38 -6.67v-13.34z" fill="#00ffff" stroke="#00ffff"/>
<path d="M1071.23 685.20l12.38 6.67v13.34l-12.38 6.67l-12.38 -6.67v-13.34z" fill="#708fff" stroke="#708fff"/>
<path d="M1071.23 645.18l12.38 6.67v13.34l-12.38 6.67l-12.38 -6.67v-13.34z" fill="#708fff" stroke="#708fff"/>
<path d="M1071.23 525.12l12.38 6.67v13.34l-12.38 6.67l-12.38 -6.67v-13.34z" fill="#00ffff" stroke="#00ffff"/>
<path d="M1095.99 765.24l12.38 6.67v13.34l-12.38 6.67l-12.38 -6.67v-13.34z" fill="#00ffff" stroke="#00ffff"/>
<path d="M1095.99 685.20l12.38 6.67v13.34l-12.38 6.67l-12.38 -6.67v-13.34z" fill="#00ffff" stroke="#00ffff"/>
<path d="M1095.99 645.18l12.38 6.67v13.34l-12.38 6.67l-12.38 -6.67v-13.34z" fill="#708fff" stroke="#708fff"/>
<path d="M1095.99 605.16l12.38 6.67v13.34l-12.38 6.67l-12.38 -6.67v-13.34z" fill="#1fe0ff" stroke="#1fe0ff"/>
<path d="M1095.99 525.12l12.38 6.67v13.34l-12.38 6.67l-12.38 -6.67v-13.34z" fill="#33ccff" stroke="#33ccff"/>
<path d="M1120.75 645.18l12.38 6.67v13.34l-12.38 6.67l-12.38 -6.67v-13.34z" fill="#8080ff" stroke="#8080ff"/>
<path d="M1120.75 605.16l12.38 6.67v13.34l-12.38 6.67l-12.38 -6.67v-13.34z" fill="#1fe0ff" stroke="#1fe0ff"/>
<path d="M1145.51 765.24l12.38 6.67v13.34l-12.38 6.67l-12.38 -6.67v-13.34z" fill="#00ffff" stroke="#00ffff"/>
<path d="M1145.51 645.18l12.38 6.67v13.34l-12.38 6.67l-12.38 -6.67v-13.34z" fill="#8778ff" stroke="#8778ff"/>
<path d="M1145.51 605.16l12.38 6.67v13.34l-12.38 6.67l-12.38 -6.67v-13.34z" fill="#45baff" stroke="#45baff"/>
<path d="M1170.27 685.20l12.38 6.67v13.34l-12.38 6.67l-12.38 -6.67v-13.34z" fill="#00ffff" stroke="#00ffff"/>
<path d="M1170.27 645.18l12.38 6.67v13.34l-12.38 6.67l-12.38 -6.67v-13.34z" fill="#52adff" stroke="#52adff"/>
<path d="M1170.27 605.16l12.38 6.67v13.34l-12.38 6.67l-12.38 -6.67v-13.34z" fill="#33ccff" stroke="#33ccff"/>
<path d="M1170.27 485.10l12.38 6.67v13.34l-12.38 6.67l-12.38 -6.67v-13.34z" fill="#00ffff" stroke="#00ffff"/>
<path d="M1195.03 605.16l12.38 6.67v13.34l-12.38 6.67l-12.38 -6.67v-13.34z" fill="#33ccff" stroke="#33ccff"/>
<path d="M1195.03 525.12l12.38 6.67v13.34l-12.38 6.67l-12.38 -6.67v-13.34z" fill="#00ffff" stroke="#00ffff"/>
<path d="M1219.79 605.16l12.38 6.67v13.34l-12.38 6.67l-12.38 -6.67v-13.34z" fill="#33ccff" stroke="#33ccff"/>
<path d="M1244.55 565.14l12.38 6.67v13.34l-12.38 6.67l-12.38 -6.67v-13.34z" fill="#33ccff" stroke="#33ccff"/>
<path d="M1269.31 565.14l12.38 6.67v13.34l-12.38 6.67l-12.38 -6.67v-13.34z" fill="#1fe0ff" stroke="#1fe0ff"/>
<path d="M1269.31 525.12l12.38 6.67v13.34l-12.38 6.67l-12.38 -6.67v-13.34z" fill="#00ffff" stroke="#00ffff"/>
<path d="M1294.07 565.14l12.38 6.67v13.34l-12.38 6.67l-12.38 -6.67v-13.34z" fill="#00ffff" stroke="#00ffff"/>
<path d="M1318.83 525.12l12.38 6.67v13.34l-12.38 6.67l-12.38 -6.67v-13.34z" fill="#1fe0ff" stroke="#1fe0ff"/>
<path d="M1343.59 525.12l12.38 6.67v13.34l-12.38 6.67l-12.38 -6.67v-13.34z" fill="#45baff" stroke="#45baff"/>
<path d="M1368.35 525.12l12.38 6.67v13.34l-12.38 6.67l-12.38 -6.67v-13.34z" fill="#1fe0ff" stroke="#1fe0ff"/>
<path d="M1393.11 485.10l12.38 6.67v13.34l-12.38 6.67l-12.38 -6.67v-13.34z" fill="#00ffff" stroke="#00ffff"/>
<path d="M1417.87 405.06l12.38 6.67v13.34l-12.38 6.67l-12.38 -6.67v-13.34z" fill="#00ffff" stroke="#00ffff"/>
<path d="M291.29 1465.59l12.38 6.67v13.34l-12.38 6.67l-12.38 -6.67v-13.34z" fill="#1fe0ff" stroke="#1fe0ff"/>
<path d="M291.29 1385.55l12.38 6.67v13.34l-12.38 6.67l-12.38 -6.67v-13.34z" fill="#00ffff" stroke="#00ffff"/>
<path d="M316.05 1505.61l12.38 6.67v13.34l-12.38 6.67l-12.38 -6.67v-13.34z" fill="#1fe0ff" stroke="#1fe0ff"/>
<path d="M316.05 1425.57l12.38 6.67v13.34l-12.38 6.67l-12.38 -6.67v-13.34z" fill="#33ccff" stroke="#33ccff"/>
<path d="M316.05 1385.55l12.38 6.67v13.34l-12.38 6.67l-12.38 -6.67v-13.34z" fill="#45baff" stroke="#45baff"/>
<path d="M316.05 1345.53l12.38 6.67v13.34l-12.38 6.67l-12.38 -6.67v-13.34z" fill="#45baff" stroke="#45baff"/>
<path d="M340.81 1385.55l12.38 6.67v13.34l-12.38 6.67l-12.38 -6.67v-13.34z" fill="#45baff" stroke="#45baff"/>
<path d="M340.81 1345.53l12.38 6.67v13.34l-12.38 6.67l-12.38 -6.67v-13.34z" fill="#619eff" stroke="#619eff"/>
<path d="M365.57 1425.57l12.38 6.67v13.34l-12.38 6.67l-12.38 -6.67v-13.34z" fill="#1fe0ff" stroke="#1fe0ff"/>
<path d="M365.57 1385.55l12.38 6.67v13.34l-12.38 6.67l-12.38 -6.67v-13.34z" fill="#619eff" stroke="#619eff"/>
<path d="M365.57 1345.53l12.38 6.67v13.34l-12.38 6.67l-12.38 -6.67v-13.34z" fill="#8080ff" stroke="#8080ff"/>
<path d="M365.57 1305.51l12.38 6.67v13.34l-12.38 6.67l-12.38 -6.67v-13.34z" fill="#00ffff" stroke="#00ffff"/>
<path d="M390.33 1425.57l12.38 6.67v13.34l-12.38 6.67l-12.38 -6.67v-13.34z" fill="#00ffff" stroke="#00ffff"/>
<path d="M390.33 1385.55l12.38 6.67v13.34l-12.38 6.67l-12.38 -6.67v-13.34z" fill="#45baff" stroke="#45baff"/>
<path d="M390.33 1345.53l12.38 6.67v13.34l-12.38 6.67l-12.38 -6.67v-13.34z" fill="#8778ff" stroke="#8778ff"/>
<path d="M390.33 1305.51l12.38 6.67v13.34l-12.38 6.67l-12.38 -6.67v-13.34z" fill="#00ffff" stroke="#00ffff"/>
<path d="M415.09 1385.55l12.38 6.67v13.34l-12.38 6.67l-12.38 -6.67v-13.34z" fill="#00ffff" stroke="#00ffff"/>
<path d="M415.09 1345.53l12.38 6.67v13.34l-12.38 6.67l-12.38 -6.67v-13.34z" fill="#45baff" stroke="#45baff"/>
<path d="M415.09 1305.51l12.38 6.67v13.34l-12.38 6.67l-12.38 -6.67v-13.34z" fill="#00ffff" stroke="#00ffff"/>
<path d="M439.85 1385.55l12.38 6.67v13.34l-12.38 6.67l-12.38 -6.67v-13.34z" fill="#1fe0ff" stroke="#1fe0ff"/>
<path d="M439.85 1345.53l12.38 6.67v13.34l-12.38 6.67l-12.38 -6.67v-13.34z" fill="#8080ff" stroke="#8080ff"/>
<path d="M439.85 1305.51l12.38 6.67v13.34l-12.38 6.67l-12.38 -6.67v-13.34z" fill="#00ffff" stroke="#00ffff"/>
<path d="M464.61 1385.55l12.38 6.67v13.34l-12.38 6.67l-12.38 -6.67v-13.34z" fill="#00ffff" stroke="#00ffff"/>
<path d="M464.61 1305.51l12.38 6.67v13.34l-12.38 6.67l-12.38 -6.67v-13.34z" fill="#00ffff" stroke="#00ffff"/>
<path d="M464.61 1265.49l12.38 6.67v13.34l-12.38 6.67l-12.38 -6.67v-13.34z" fill="#33ccff" stroke="#33ccff"/>
<path d="M489.37 1305.51l12.38 6.67v13.34l-12.38 6.67l-12.38 -6.67v-13.34z" fill="#1fe0ff" stroke="#1fe0ff"/>
<path d="M489.37 1265.49l12.38 6.67v13.34l-12.38 6.67l-12.38 -6.67v-13.34z" fill="#33ccff" stroke="#33ccff"/>
<path d="M489.37 1025.37l12.38 6.67v13.34l-12.38 6.67l-12.38 -6.67v-13.34z" fill="#00ffff" stroke="#00ffff"/>
<path d="M514.13 1345.53l12.38 6.67v13.34l-12.38 6.67l-12.38 -6.67v-13.34z" fill="#00ffff" stroke="#00ffff"/>
<path d="M514.13 1305.51l12.38 6.67v13.34l-12.38 6.67l-12.38 -6.67v-13.34z" fill="#1fe0ff" stroke="#1fe0ff"/>
<path d="M514.13 1265.49l12.38 6.67v13.34l-12.38 6.67l-12.38 -6.67v-13.34z" fill="#52adff" stroke="#52adff"/>
<path d="M514.13 1225.47l12.38 6.67v13.34l-12.38 6.67l-12.38 -6.67v-13.34z" fill="#9966ff" stroke="#9966ff"/>
<path d="M514.13 1185.45l12.38 6.67v13.34l-12.38 6.67l-12.38 -6.67v-13.34z" fill="#00ffff" stroke="#00ffff"/>
<path d="M538.89 1305.51l12.38 6.67v13.34l-12.38 6.67l-12.38 -6.67v-13.34z" fill="#ff00ff" stroke="#ff00ff"/>
<path d="M538.89 1265.49l12.38 6.67v13.34l-12.38 6.67l-12.38 -6.67v-13.34z" fill="#619eff" stroke="#619eff"/>
<path d="M538.89 1225.47l12.38 6.67v13.34l-12.38 6.67l-12.38 -6.67v-13.34z" fill="#45baff" stroke="#45baff"/>
<path d="M538.89 1185.45l12.38 6.67v13.34l-12.38 6.67l-12.38 -6.67v-13.34z" fill="#1fe0ff" stroke="#1fe0ff"/>
<path d="M563.65 1305.51l12.38 6.67v13.34l-12.38 6.67l-12.38 -6.67v-13.34z" fill="#00ffff" stroke="#00ffff"/>
<path d="M563.65 1265.49l12.38 6.67v13.34l-12.38 6.67l-12.38 -6.67v-13.34z" fill="#52adff" stroke="#52adff"/>
<path d="M563.65 1225.47l12.38 6.67v13.34l-12.38 6.67l-12.38 -6.67v-13.34z" fill="#ab54ff" stroke="#ab54ff"/>
<path d="M563.65 1185.45l12.38 6.67v13.34l-12.38 6.67l-12.38 -6.67v-13.34z" fill="#00ffff" stroke="#00ffff"/>
<path d="M563.65 1105.41l12.38 6.67v13.34l-12.38 6.67l-12.38 -6.67v-13.34z" fill="#33ccff" stroke="#33ccff"/>
<path d="M563.65 1065.39l12.38 6.67v13.34l-12.38 6.67l-12.38 -6.67v-13.34z" fill="#619eff" stroke="#619eff"/>
<path d="M588.41 1305.51l12.38 6.67v13.34l-12.38 6.67l-12.38 -6.67v-13.34z" fill="#00ffff" stroke="#00ffff"/>
<path d="M588.41 1265.49l12.38 6.67v13.34l-12.38 6.67l-12.38 -6.67v-13.34z" fill="#52adff" stroke="#52adff"/>
<path d="M588.41 1225.47l12.38 6.67v13.34l-12.38 6.67l-12.38 -6.67v-13.34z" fill="#708fff" stroke="#708fff"/>
<path d="M588.41 1185.45l12.38 6.67v13.34l-12.38 6.67l-12.38 -6.67v-13.34z" fill="#8778ff" stroke="#8778ff"/>
<path d="M588.41 1145.43l12.38 6.67v13.34l-12.38 6.67l-12.38 -6.67v-13.34z" fill="#8080ff" stroke="#8080ff"/>
<path d="M588.41 1105.41l12.38 6.67v13.34l-12.38 6.67l-12.38 -6.67v-13.34z" fill="#8080ff" stroke="#8080ff"/>
<path d="M588.41 1065.39l12.38 6.67v13.34l-12.38 6.67l-12.38 -6.67v-13.34z" fill="#d42bff" stroke="#d42bff"/>
<path d="M588.41 1025.37l12.38 6.67v13.34l-12.38 6.67l-12.38 -6.67v-13.34z" fill="#708fff" stroke="#708fff"/>
<path d="M588.41 945.33l12.38 6.67v13.34l-12.38 6.67l-12.38 -6.67v-13.34z" fill="#00ffff" stroke="#00ffff"/>
<path d="M613.17 1265.49l12.38 6.67v13.34l-12.38 6.67l-12.38 -6.67v-13.34z" fill="#1fe0ff" stroke="#1fe0ff"/>
<path d="M613.17 1225.47l12.38 6.67v13.34l-12.38 6.67l-12.38 -6.67v-13.34z" fill="#1fe0ff" stroke="#1fe0ff"/>
<path d="M613.17 1185.45l12.38 6.67v13.34l-12.38 6.67l-12.38 -6.67v-13.34z" fill="#8080ff" stroke="#8080ff"/>
<path d="M613.17 1145.43l12.38 6.67v13.34l-12.38 6.67l-12.38 -6.67v-13.34z" fill="#8778ff" stroke="#8778ff"/>
<path d="M613.17 1105.41l12.38 6.67v13.34l-12.38 6.67l-12.38 -6.67v-13.34z" fill="#8080ff" stroke="#8080ff"/>
<path d="M613.17 1065.39l12.38 6.67v13.34l-12.38 6.67l-12.38 -6.67v-13.34z" fill="#d42bff" stroke="#d42bff"/>
<path d="M613.17 1025.37l12.38 6.67v13.34l-12.38 6.67l-12.38 -6.67v-13.34z" fill="#d42bff" stroke="#d42bff"/>
<path d="M613.17 985.35l12.38 6.67v13.34l-12.38 6.67l-12.38 -6.67v-13.34z" fill="#1fe0ff" stroke="#1fe0ff"/>
<path d="M637.93 1185.45l12.38 6.67v13.34l-12.38 6.67l-12.38 -6.67v-13.34z" fill="#00ffff" stroke="#00ffff"/>
<path d="M637.93 1145.43l12.38 6.67v13.34l-12.38 6.67l-12.38 -6.67v-13.34z" fill="#9966ff" stroke="#9966ff"/>
<path d="M637.93 1105.41l12.38 6.67v13.34l-12.38 6.67l-12.38 -6.67v-13.34z" fill="#8f70ff" stroke="#8f70ff"/>
<path d="M637.93 1065.39l12.38 6.67v13.34l-12.38 6.67l-12.38 -6.67v-13.34z" fill="#9966ff" stroke="#9966ff"/>
<path d="M637.93 1025.37l12.38 6.67v13.34l-12.38 6.67l-12.38 -6.67v-13.34z" fill="#ab54ff" stroke="#ab54ff"/>
<path d="M637.93 985.35l12.38 6.67v13.34l-12.38 6.67l-12.38 -6.67v-13.34z" fill="#708fff" stroke="#708fff"/>
<path d="M662.69 1265.49l12.38 6.67v13.34l-12.38 6.67l-12.38 -6.67v-13.34z" fill="#00ffff" stroke="#00ffff"/>
<path d="M662.69 1185.45l12.38 6.67v13.34l-12.38 6.67l-12.38 -6.67v-13.34z" fill="#00ffff" stroke="#00ffff"/>
<path d="M662.69 1145.43l12.38 6.67v13.34l-12.38 6.67l-12.38 -6.67v-13.34z" fill="#1fe0ff" stroke="#1fe0ff"/>
<path d="M662.69 1105.41l12.38 6.67v13.34l-12.38 6.67l-12.38 -6.67v-13.34z" fill="#b847ff" stroke="#b847ff"/>
<path d="M662.69 1065.39l12.38 6.67v13.34l-12.38 6.67l-12.38 -6.67v-13.34z" fill="#8f70ff" stroke="#8f70ff"/>
<path d="M662.69 1025.37l12.38 6.67v13.34l-12.38 6.67l-12.38 -6.67v-13.34z" fill="#ab54ff" stroke="#ab54ff"/>
<path d="M662.69 985.35l12.38 6.67v13.34l-12.38 6.67l-12.38 -6.67v-13.34z" fill="#8080ff" stroke="#8080ff"/>
<path d="M687.45 1025.37l12.38 6.67v13.34l-12.38 6.67l-12.38 -6.67v-13.34z" fill="#619eff" stroke="#619eff"/>
<path d="M687.45 985.35l12.38 6.67v13.34l-12.38 6.67l-12.38 -6.67v-13.34z" fill="#619eff" stroke="#619eff"/>
<path d="M687.45 945.33l12.38 6.67v13.34l-12.38 6.67l-12.38 -6.67v-13.34z" fill="#8778ff" stroke="#8778ff"/>
<path d="M712.21 1025.37l12.38 6.67v13.34l-12.38 6.67l-12.38 -6.67v-13.34z" fill="#52adff" stroke="#52adff"/>
<path d="M712.21 985.35l12.38 6.67v13.34l-12.38 6.67l-12.38 -6.67v-13.34z" fill="#619eff" stroke="#619eff"/>
<path d="M712.21 945.33l12.38 6.67v13.34l-12.38 6.67l-12.38 -6.67v-13.34z" fill="#619eff" stroke="#619eff"/>
<path d="M736.97 1025.37l12.38 6.67v13.34l-12.38 6.67l-12.38 -6.67v-13.34z" fill="#619eff" stroke="#619eff"/>
<path d="M736.97 985.35l12.38 6.67v13.34l-12.38 6.67l-12.38 -6.67v-13.34z" fill="#619eff" stroke="#619eff"/>
<path d="M736.97 945.33l12.38 6.67v13.34l-12.38 6.67l-12.38 -6.67v-13.34z" fill="#45baff" stroke="#45baff"/>
<path d="M736.97 905.31l12.38 6.67v13.34l-12.38 6.67l-12.38 -6.67v-13.34z" fill="#00ffff" stroke="#00ffff"/>
<path d="M736.97 865.29l12.38 6.67v13.34l-12.38 6.67l-12.38 -6.67v-13.34z" fill="#1fe0ff" stroke="#1fe0ff"/>
<path d="M761.73 1025.37l12.38 6.67v13.34l-12.38 6.67l-12.38 -6.67v-13.34z" fill="#8778ff" stroke="#8778ff"/>
<path d="M761.73 985.35l12.38 6.67v13.34l-12.38 6.67l-12.38 -6.67v-13.34z" fill="#de21ff" stroke="#de21ff"/>
<path d="M761.73 945.33l12.38 6.67v13.34l-12.38 6.67l-12.38 -6.67v-13.34z" fill="#8778ff" stroke="#8778ff"/>
<path d="M761.73 865.29l12.38 6.67v13.34l-12.38 6.67l-12.38 -6.67v-13.34z" fill="#00ffff" stroke="#00ffff"/>
<path d="M786.49 1025.37l12.38 6.67v13.34l-12.38 6.67l-12.38 -6.67v-13.34z" fill="#8080ff" stroke="#8080ff"/>
<path d="M786.49 985.35l12.38 6.67v13.34l-12.38 6.67l-12.38 -6.67v-13.34z" fill="#8080ff" stroke="#8080ff"/>
<path d="M786.49 945.33l12.38 6.67v13.34l-12.38 6.67l-12.38 -6.67v-13.34z" fill="#9966ff" stroke="#9966ff"/>
<path d="M786.49 905.31l12.38 6.67v13.34l-12.38 6.67l-12.38 -6.67v-13.34z" fill="#33ccff" stroke="#33ccff"/>
<path d="M786.49 865.29l12.38 6.67v13.34l-12.38 6.67l-12.38 -6.67v-13.34z" fill="#1fe0ff" stroke="#1fe0ff"/>
<path d="M786.49 825.27l12.38 6.67v13.34l-12.38 6.67l-12.38 -6.67v-13.34z" fill="#00ffff" stroke="#00ffff"/>
<path d="M786.49 745.23l12.38 6.67v13.34l-12.38 6.67l-12.38 -6.67v-13.34z" fill="#00ffff" stroke="#00ffff"/>
<path d="M811.25 1025.37l12.38 6.67v13.34l-12.38 6.67l-12.38 -6.67v-13.34z" fill="#619eff" stroke="#619eff"/>
<path d="M811.25 985.35l12.38 6.67v13.34l-12.38 6.67l-12.38 -6.67v-13.34z" fill="#619eff" stroke="#619eff"/>
<path d="M811.25 945.33l12.38 6.67v13.34l-12.38 6.67l-12.38 -6.67v-13.34z" fill="#9966ff" stroke="#9966ff"/>
<path d="M811.25 905.31l12.38 6.67v13.34l-12.38 6.67l-12.38 -6.67v-13.34z" fill="#52adff" stroke="#52adff"/>
<path d="M811.25 865.29l12.38 6.67v13.34l-12.38 6.67l-12.38 -6.67v-13.34z" fill="#708fff" stroke="#708fff"/>
<path d="M836.01 1025.37l12.38 6.67v13.34l-12.38 6.67l-12.38 -6.67v-13.34z" fill="#45baff" stroke="#45baff"/>
<path d="M836.01 985.35l12.38 6.67v13.34l-12.38 6.67l-12.38 -6.67v-13.34z" fill="#45baff" stroke="#45baff"/>
<path d="M836.01 945.33l12.38 6.67v13.34l-12.38 6.67l-12.38 -6.67v-13.34z" fill="#8f70ff" stroke="#8f70ff"/>
<path d="M836.01 905.31l12.38 6.67v13.34l-12.38 6.67l-12.38 -6.67v-13.34z" fill="#9966ff" stroke="#9966ff"/>
<path d="M836.01 865.29l12.38 6.67v13.34l-12.38 6.67l-12.38 -6.67v-13.34z" fill="#52adff" stroke="#52adff"/>
<path d="M836.01 825.27l12.38 6.67v13.34l-12.38 6.67l-12.38 -6.67v-13.34z" fill="#00ffff" stroke="#00ffff"/>
<path d="M860.77 1145.43l12.38 6.67v13.34l-12.38 6.67l-12.38 -6.67v-13.34z" fill="#00ffff" stroke="#00ffff"/>
<path d="M860.77 1105.41l12.38 6.67v13.34l-12.38 6.67l-12.38 -6.67v-13.34z" fill="#00ffff" stroke="#00ffff"/>
<path d="M860.77 1025.37l12.38 6.67v13.34l-12.38 6.67l-12.38 -6.67v-13.34z" fill="#33ccff" stroke="#33ccff"/>
<path d="M860.77 985.35l12.38 6.67v13.34l-12.38 6.67l-12.38 -6.67v-13.34z" fill="#45baff" stroke="#45baff"/>
<path d="M860.77 945.33l12.38 6.67v13.34l-12.38 6.67l-12.38 -6.67v-13.34z" fill="#8080ff" stroke="#8080ff"/>
<path d="M860.77 905.31l12.38 6.67v13.34l-12.38 6.67l-12.38 -6.67v-13.34z" fill="#ab54ff" stroke="#ab54ff"/>
<path d="M860.77 865.29l12.38 6.67v13.34l-12.38 6.67l-12.38 -6.67v-13.34z" fill="#8f70ff" stroke="#8f70ff"/>
<path d="M860.77 825.27l12.38 6.67v13.34l-12.38 6.67l-12.38 -6.67v-13.34z" fill="#1fe0ff" stroke="#1fe0ff"/>
<path d="M860.77 785.25l12.38 6.67v13.34l-12.38 6.67l-12.38 -6.67v-13.34z" fill="#00ffff" stroke="#00ffff"/>
<path d="M860.77 705.21l12.38 6.67v13.34l-12.38 6.67l-12.38 -6.67v-13.34z" fill="#00ffff" stroke="#00ffff"/>
<path d="M860.77 665.19l12.38 6.67v13.34l-12.38 6.67l-12.38 -6.67v-13.34z" fill="#00ffff" stroke="#00ffff"/>
<path d="M885.53 1145.43l12.38 6.67v13.34l-12.38 6.67l-12.38 -6.67v-13.34z" fill="#00ffff" stroke="#00ffff"/>
<path d="M885.53 1065.39l12.38 6.67v13.34l-12.38 6.67l-12.38 -6.67v-13.34z" fill="#00ffff" stroke="#00ffff"/>
<path d="M885.53 1025.37l12.38 6.67v13.34l-12.38 6.67l-12.38 -6.67v-13.34z" fill="#45baff" stroke="#45baff"/>
<path d="M885.53 985.35l12.38 6.67v13.34l-12.38 6.67l-12.38 -6.67v-13.34z" fill="#708fff" stroke="#708fff"/>
<path d="M885.53 945.33l12.38 6.67v13.34l-12.38 6.67l-12.38 -6.67v-13.34z" fill="#b847ff" stroke="#b847ff"/>
<path d="M885.53 905.31l12.38 6.67v13.34l-12.38 6.67l-12.38 -6.67v-13.34z" fill="#ab54ff" stroke="#ab54ff"/>
<path d="M885.53 865.29l12.38 6.67v13.34l-12.38 6.67l-12.38 -6.67v-13.34z" fill="#8080ff" stroke="#8080ff"/>
<path d="M885.53 825.27l12.38 6.67v13.34l-12.38 6.67l-12.38 -6.67v-13.34z" fill="#33ccff" stroke="#33ccff"/>
<path d="M885.53 785.25l12.38 6.67v13.34l-12.38 6.67l-12.38 -6.67v-13.34z" fill="#00ffff" stroke="#00ffff"/>
<path d="M885.53 745.23l12.38 6.67v13.34l-12.38 6.67l-12.38 -6.67v-13.34z" fill="#619eff" stroke="#619eff"/>
<path d="M885.53 705.21l12.38 6.67v13.34l-12.38 6.67l-12.38 -6.67v-13.34z" fill="#8f70ff" stroke="#8f70ff"/>
<path d="M885.53 665.19l12.38 6.67v13.34l-12.38 6.67l-12.38 -6.67v-13.34z" fill="#52adff" stroke="#52adff"/>
<path d="M885.53 625.17l12.38 6.67v13.34l-12.38 6.67l-12.38 -6.67v-13.34z" fill="#00ffff" stroke="#00ffff"/>
<path d="M910.29 1065.39l12.38 6.67v13.34l-12.38 6.67l-12.38 -6.67v-13.34z" fill="#1fe0ff" stroke="#1fe0ff"/>
<path d="M910.29 1025.37l12.38 6.67v13.34l-12.38 6.67l-12.38 -6.67v-13.34z" fill="#45baff" stroke="#45baff"/>
<path d="M910.29 985.35l12.38 6.67v13.34l-12.38 6.67l-12.38 -6.67v-13.34z" fill="#52adff" stroke="#52adff"/>
<path d="M910.29 945.33l12.38 6.67v13.34l-12.38 6.67l-12.38 -6.67v-13.34z" fill="#ab54ff" stroke="#ab54ff"/>
<path d="M910.29 905.31l12.38 6.67v13.34l-12.38 6.67l-12.38 -6.67v-13.34z" fill="#9966ff" stroke="#9966ff"/>
<path d="M910.29 865.29l12.38 6.67v13.34l-12.38 6.67l-12.38 -6.67v-13.34z" fill="#9966ff" stroke="#9966ff"/>
<path d="M910.29 825.27l12.38 6.67v13.34l-12.38 6.67l-12.38 -6.67v-13.34z" fill="#8080ff" stroke="#8080ff"/>
<path d="M910.29 785.25l12.38 6.67v13.34l-12.38 6.67l-12.38 -6.67v-13.34z" fill="#708fff" stroke="#708fff"/>
<path d="M910.29 745.23l12.38 6.67v13.34l-12.38 6.67l-12.38 -6.67v-13.34z" fill="#00ffff" stroke="#00ffff"/>
<path d="M910.29 705.21l12.38 6.67v13.34l-12.38 6.67l-12.38 -6.67v-13.34z" fill="#33ccff" stroke="#33ccff"/>
<path d="M910.29 665.19l12.38 6.67v13.34l-12.38 6.67l-12.38 -6.67v-13.34z" fill="#45baff" stroke="#45baff"/>
<path d="M910.29 505.11l12.38 6.67v13.34l-12.38 6.67l-12.38 -6.67v-13.34z" fill="#00ffff" stroke="#00ffff"/>
<path d="M935.05 1305.51l12.38 6.67v13.34l-12.38 6.67l-12.38 -6.67v-13.34z" fill="#1fe0ff" stroke="#1fe0ff"/>
<path d="M935.05 1225.47l12.38 6.67v13.34l-12.38 6.67l-12.38 -6.67v-13.34z" fill="#45baff" stroke="#45baff"/>
<path d="M935.05 1025.37l12.38 6.67v13.34l-12.38 6.67l-12.38 -6.67v-13.34z" fill="#619eff" stroke="#619eff"/>
<path d="M935.05 985.35l12.38 6.67v13.34l-12.38 6.67l-12.38 -6.67v-13.34z" fill="#708fff" stroke="#708fff"/>
<path d="M935.05 945.33l12.38 6.67v13.34l-12.38 6.67l-12.38 -6.67v-13.34z" fill="#9966ff" stroke="#9966ff"/>
<path d="M935.05 905.31l12.38 6.67v13.34l-12.38 6.67l-12.38 -6.67v-13.34z" fill="#ab54ff" stroke="#ab54ff"/>
<path d="M935.05 865.29l12.38 6.67v13.34l-12.38 6.67l-12.38 -6.67v-13.34z" fill="#708fff" stroke="#708fff"/>
<path d="M935.05 825.27l12.38 6.67v13.34l-12.38 6.67l-12.38 -6.67v-13.34z" fill="#c738ff" stroke="#c738ff"/>
<path d="M935.05 785.25l12.38 6.67v13.34l-12.38 6.67l-12.38 -6.67v-13.34z" fill="#ab54ff" stroke="#ab54ff"/>
<path d="M935.05 745.23l12.38 6.67v13.34l-12.38 6.67l-12.38 -6.67v-13.34z" fill="#45baff" stroke="#45baff"/>
<path d="M935.05 705.21l12.38 6.67v13.34l-12.38 6.67l-12.38 -6.67v-13.34z" fill="#8080ff" stroke="#8080ff"/>
<path d="M935.05 665.19l12.38 6.67v13.34l-12.38 6.67l-12.38 -6.67v-13.34z" fill="#708fff" stroke="#708fff"/>
<path d="M935.05 625.17l12.38 6.67v13.34l-12.38 6.67l-12.38 -6.67v-13.34z" fill="#33ccff" stroke="#33ccff"/>
<path d="M935.05 545.13l12.38 6.67v13.34l-12.38 6.67l-12.38 -6.67v-13.34z" fill="#00ffff" stroke="#00ffff"/>
<path d="M959.81 1265.49l12.38 6.67v13.34l-12.38 6.67l-12.38 -6.67v-13.34z" fill="#00ffff" stroke="#00ffff"/>
<path d="M959.81 1105.41l12.38 6.67v13.34l-12.38 6.67l-12.38 -6.67v-13.34z" fill="#00ffff" stroke="#00ffff"/>
<path d="M959.81 1025.37l12.38 6.67v13.34l-12.38 6.67l-12.38 -6.67v-13.34z" fill="#00ffff" stroke="#00ffff"/>
<path d="M959.81 985.35l12.38 6.67v13.34l-12.38 6.67l-12.38 -6.67v-13.34z" fill="#1fe0ff" stroke="#1fe0ff"/>
<path d="M959.81 945.33l12.38 6.67v13.34l-12.38 6.67l-12.38 -6.67v-13.34z" fill="#45baff" stroke="#45baff"/>
<path d="M959.81 905.31l12.38 6.67v13.34l-12.38 6.67l-12.38 -6.67v-13.34z" fill="#c738ff" stroke="#c738ff"/>
<path d="M959.81 865.29l12.38 6.67v13.34l-12.38 6.67l-12.38 -6.67v-13.34z" fill="#ab54ff" stroke="#ab54ff"/>
<path d="M959.81 825.27l12.38 6.67v13.34l-12.38 6.67l-12.38 -6.67v-13.34z" fill="#c738ff" stroke="#c738ff"/>
<path d="M959.81 785.25l12.38 6.67v13.34l-12.38 6.67l-12.38 -6.67v-13.34z" fill="#8080ff" stroke="#8080ff"/>
<path d="M959.81 745.23l12.38 6.67v13.34l-12.38 6.67l-12.38 -6.67v-13.34z" fill="#45baff" stroke="#45baff"/>
<path d="M959.81 705.21l12.38 6.67v13.34l-12.38 6.67l-12.38 -6.67v-13.34z" fill="#619eff" stroke="#619eff"/>
<path d="M959.81 665.19l12.38 6.67v13.34l-12.38 6.67l-12.38 -6.67v-13.34z" fill="#45baff" stroke="#45baff"/>
<path d="M959.81 625.17l12.38 6.67v13.34l-12.38 6.67l-12.38 -6.67v-13.34z" fill="#619eff" stroke="#619eff"/>
<path d="M959.81 585.15l12.38 6.67v13.34l-12.38 6.67l-12.38 -6.67v-13.34z" fill="#8080ff" stroke="#8080ff"/>
<path d="M984.57 1265.49l12.38 6.67v13.34l-12.38 6.67l-12.38 -6.67v-13.34z" fill="#00ffff" stroke="#00ffff"/>
<path d="M984.57 1225.47l12.38 6.67v13.34l-12.38 6.67l-12.38 -6.67v-13.34z" fill="#00ffff" stroke="#00ffff"/>
<path d="M984.57 1185.45l12.38 6.67v13.34l-12.38 6.67l-12.38 -6.67v-13.34z" fill="#00ffff" stroke="#00ffff"/>
<path d="M984.57 1065.39l12.38 6.67v13.34l-12.38 6.67l-12.38 -6.67v-13.34z" fill="#00ffff" stroke="#00ffff"/>
<path d="M984.57 1025.37l12.38 6.67v13.34l-12.38 6.67l-12.38 -6.67v-13.34z" fill="#708fff" stroke="#708fff"/>
<path d="M984.57 985.35l12.38 6.67v13.34l-12.38 6.67l-12.38 -6.67v-13.34z" fill="#1fe0ff" stroke="#1fe0ff"/>
<path d="M984.57 905.31l12.38 6.67v13.34l-12.38 6.67l-12.38 -6.67v-13.34z" fill="#619eff" stroke="#619eff"/>
<path d="M984.57 865.29l12.38 6.67v13.34l-12.38 6.67l-12.38 -6.67v-13.34z" fill="#b847ff" stroke="#b847ff"/>
<path d="M984.57 825.27l12.38 6.67v13.34l-12.38 6.67l-12.38 -6.67v-13.34z" fill="#ab54ff" stroke="#ab54ff"/>
<path d="M984.57 785.25l12.38 6.67v13.34l-12.38 6.67l-12.38 -6.67v-13.34z" fill="#ab54ff" stroke="#ab54ff"/>
<path d="M984.57 745.23l12.38 6.67v13.34l-12.38 6.67l-12.38 -6.67v-13.34z" fill="#619eff" stroke="#619eff"/>
<path d="M984.57 705.21l12.38 6.67v13.34l-12.38 6.67l-12.38 -6.67v-13.34z" fill="#8f70ff" stroke="#8f70ff"/>
<path d="M984.57 665.19l12.38 6.67v13.34l-12.38 6.67l-12.38 -6.67v-13.34z" fill="#619eff" stroke="#619eff"/>
<path d="M984.57 625.17l12.38 6.67v13.34l-12.38 6.67l-12.38 -6.67v-13.34z" fill="#8080ff" stroke="#8080ff"/>
<path d="M984.57 585.15l12.38 6.67v13.34l-12.38 6.67l-12.38 -6.67v-13.34z" fill="#8080ff" stroke="#8080ff"/>
<path d="M984.57 505.11l12.38 6.67v13.34l-12.38 6.67l-12.38 -6.67v-13.34z" fill="#1fe0ff" stroke="#1fe0ff"/>
<path d="M1009.33 1025.37l12.38 6.67v13.34l-12.38 6.67l-12.38 -6.67v-13.34z" fill="#1fe0ff" stroke="#1fe0ff"/>
<path d="M1009.33 905.31l12.38 6.67v13.34l-12.38 6.67l-12.38 -6.67v-13.34z" fill="#33ccff" stroke="#33ccff"/>
<path d="M1009.33 865.29l12.38 6.67v13.34l-12.38 6.67l-12.38 -6.67v-13.34z" fill="#619eff" stroke="#619eff"/>
<path d="M1009.33 825.27l12.38 6.67v13.34l-12.38 6.67l-12.38 -6.67v-13.34z" fill="#708fff" stroke="#708fff"/>
<path d="M1009.33 785.25l12.38 6.67v13.34l-12.38 6.67l-12.38 -6.67v-13.34z" fill="#8f70ff" stroke="#8f70ff"/>
<path d="M1009.33 745.23l12.38 6.67v13.34l-12.38 6.67l-12.38 -6.67v-13.34z" fill="#45baff" stroke="#45baff"/>
<path d="M1009.33 705.21l12.38 6.67v13.34l-12.38 6.67l-12.38 -6.67v-13.34z" fill="#8f70ff" stroke="#8f70ff"/>
<path d="M1009.33 665.19l12.38 6.67v13.34l-12.38 6.67l-12.38 -6.67v-13.34z" fill="#ab54ff" stroke="#ab54ff"/>
<path d="M1009.33 625.17l12.38 6.67v13.34l-12.38 6.67l-12.38 -6.67v-13.34z" fill="#52adff" stroke="#52adff"/>
<path d="M1009.33 585.15l12.38 6.67v13.34l-12.38 6.67l-12.38 -6.67v-13.34z" fill="#00ffff" stroke="#00ffff"/>
<path d="M1009.33 545.13l12.38 6.67v13.34l-12.38 6.67l-12.38 -6.67v-13.34z" fill="#1fe0ff" stroke="#1fe0ff"/>
<path d="M1034.09 905.31l12.38 6.67v13.34l-12.38 6.67l-12.38 -6.67v-13.34z" fill="#00ffff" stroke="#00ffff"/>
<path d="M1034.09 865.29l12.38 6.67v13.34l-12.38 6.67l-12.38 -6.67v-13.34z" fill="#00ffff" stroke="#00ffff"/>
<path d="M1034.09 825.27l12.38 6.67v13.34l-12.38 6.67l-12.38 -6.67v-13.34z" fill="#00ffff" stroke="#00ffff"/>
<path d="M1034.09 785.25l12.38 6.67v13.34l-12.38 6.67l-12.38 -6.67v-13.34z" fill="#1fe0ff" stroke="#1fe0ff"/>
<path d="M1034.09 745.23l12.38 6.67v13.34l-12.38 6.67l-12.38 -6.67v-13.34z" fill="#1fe0ff" stroke="#1fe0ff"/>
<path d="M1034.09 705.21l12.38 6.67v13.34l-12.38 6.67l-12.38 -6.67v-13.34z" fill="#619eff" stroke="#619eff"/>
<path d="M1034.09 665.19l12.38 6.67v13.34l-12.38 6.67l-12.38 -6.67v-13.34z" fill="#8f70ff" stroke="#8f70ff"/>
<path d="M1034.09 625.17l12.38 6.67v13.34l-12.38 6.67l-12.38 -6.67v-13.34z" fill="#33ccff" stroke="#33ccff"/>
<path d="M1058.85 825.27l12.38 6.67v13.34l-12.38 6.67l-12.38 -6.67v-13.34z" fill="#00ffff" stroke="#00ffff"/>
<path d="M1058.85 785.25l12.38 6.67v13.34l-12.38 6.67l-12.38 -6.67v-13.34z" fill="#33ccff" stroke="#33ccff"/>
<path d="M1058.85 745.23l12.38 6.67v13.34l-12.38 6.67l-12.38 -6.67v-13.34z" fill="#00ffff" stroke="#00ffff"/>
<path d="M1058.85 705.21l12.38 6.67v13.34l-12.38 6.67l-12.38 -6.67v-13.34z" fill="#52adff" stroke="#52adff"/>
<path d="M1058.85 665.19l12.38 6.67v13.34l-12.38 6.67l-12.38 -6.67v-13.34z" fill="#8778ff" stroke="#8778ff"/>
<path d="M1058.85 625.17l12.38 6.67v13.34l-12.38 6.67l-12.38 -6.67v-13.34z" fill="#33ccff" stroke="#33ccff"/>
<path d="M1058.85 585.15l12.38 6.67v13.34l-12.38 6.67l-12.38 -6.67v-13.34z" fill="#1fe0ff" stroke="#1fe0ff"/>
<path d="M1083.61 745.23l12.38 6.67v13.34l-12.38 6.67l-12.38 -6.67v-13.34z" fill="#45baff" stroke="#45baff"/>
<path d="M1083.61 705.21l12.38 6.67v13.34l-12.38 6.67l-12.38 -6.67v-13.34z" fill="#1fe0ff" stroke="#1fe0ff"/>
<path d="M1083.61 665.19l12.38 6.67v13.34l-12.38 6.67l-12.38 -6.67v-13.34z" fill="#8080ff" stroke="#8080ff"/>
<path d="M1083.61 625.17l12.38 6.67v13.34l-12.38 6.67l-12.38 -6.67v-13.34z" fill="#8080ff" stroke="#8080ff"/>
<path d="M1108.37 705.21l12.38 6.67v13.34l-12.38 6.67l-12.38 -6.67v-13.34z" fill="#00ffff" stroke="#00ffff"/>
<path d="M1108.37 665.19l12.38 6.67v13.34l-12.38 6.67l-12.38 -6.67v-13.34z" fill="#619eff" stroke="#619eff"/>
<path d="M1108.37 625.17l12.38 6.67v13.34l-12.38 6.67l-12.38 -6.67v-13.34z" fill="#1fe0ff" stroke="#1fe0ff"/>
<path d="M1108.37 585.15l12.38 6.67v13.34l-12.38 6.67l-12.38 -6.67v-13.34z" fill="#00ffff" stroke="#00ffff"/>
<path d="M1133.13 665.19l12.38 6.67v13.34l-12.38 6.67l-12.38 -6.67v-13.34z" fill="#619eff" stroke="#619eff"/>
<path d="M1133.13 625.17l12.38 6.67v13.34l-12.38 6.67l-12.38 -6.67v-13.34z" fill="#45baff" stroke="#45baff"/>
<path d="M1133.13 585.15l12.38 6.67v13.34l-12.38 6.67l-12.38 -6.67v-13.34z" fill="#00ffff" stroke="#00ffff"/>
<path d="M1157.89 705.21l12.38 6.67v13.34l-12.38 6.67l-12.38 -6.67v-13.34z" fill="#1fe0ff" stroke="#1fe0ff"/>
<path d="M1157.89 665.19l12.38 6.67v13.34l-12.38 6.67l-12.38 -6.67v-13.34z" fill="#00ffff" stroke="#00ffff"/>
<path d="M1157.89 625.17l12.38 6.67v13.34l-12.38 6.67l-12.38 -6.67v-13.34z" fill="#52adff" stroke="#52adff"/>
<path d="M1157.89 585.15l12.38 6.67v13.34l-12.38 6.67l-12.38 -6.67v-13.34z" fill="#33ccff" stroke="#33ccff"/>
<path d="M1182.65 625.17l12.38 6.67v13.34l-12.38 6.67l-12.38 -6.67v-13.34z" fill="#8080ff" stroke="#8080ff"/>
<path d="M1182.65 585.15l12.38 6.67v13.34l-12.38 6.67l-12.38 -6.67v-13.34z" fill="#00ffff" stroke="#00ffff"/>
<path d="M1182.65 505.11l12.38 6.67v13.34l-12.38 6.67l-12.38 -6.67v-13.34z" fill="#00ffff" stroke="#00ffff"/>
<path d="M1207.41 585.15l12.38 6.67v13.34l-12.38 6.67l-12.38 -6.67v-13.34z" fill="#00ffff" stroke="#00ffff"/>
<path d="M1207.41 545.13l12.38 6.67v13.34l-12.38 6.67l-12.38 -6.67v-13.34z" fill="#00ffff" stroke="#00ffff"/>
<path d="M1232.17 505.11l12.38 6.67v13.34l-12.38 6.67l-12.38 -6.67v-13.34z" fill="#00ffff" stroke="#00ffff"/>
<path d="M1256.93 545.13l12.38 6.67v13.34l-12.38 6.67l-12.38 -6.67v-13.34z" fill="#00ffff" stroke="#00ffff"/>
<path d="M1281.69 545.13l12.38 6.67v13.34l-12.38 6.67l-12.38 -6.67v-13.34z" fill="#00ffff" stroke="#00ffff"/>
<path d="M1306.45 545.13l12.38 6.67v13.34l-12.38 6.67l-12.38 -6.67v-13.34z" fill="#33ccff" stroke="#33ccff"/>
<path d="M1331.21 545.13l12.38 6.67v13.34l-12.38 6.67l-12.38 -6.67v-13.34z" fill="#00ffff" stroke="#00ffff"/>
<path d="M1331.21 505.11l12.38 6.67v13.34l-12.38 6.67l-12.38 -6.67v-13.34z" fill="#33ccff" stroke="#33ccff"/>
<path d="M1355.97 545.13l12.38 6.67v13.34l-12.38 6.67l-12.38 -6.67v-13.34z" fill="#00ffff" stroke="#00ffff"/>
<path d="M1380.73 505.11l12.38 6.67v13.34l-12.38 6.67l-12.38 -6.67v-13.34z" fill="#00ffff" stroke="#00ffff"/>
<path d="M1405.49 465.09l12.38 6.67v13.34l-12.38 6.67l-12.38 -6.67v-13.34z" fill="#1fe0ff" stroke="#1fe0ff"/>
</g>
<g fill="#5799c7" stroke="#000" stroke-width="2.9" stroke-linejoin="miter">
<rect x="268.40" y="251.80" width="28.57" height="0.60"/>
<rect x="296.97" y="248.90" width="28.57" height="3.50"/>
<rect x="325.54" y="246.90" width="28.57" height="5.50"/>
<rect x="354.11" y="238.90" width="28.57" height="13.50"/>
<rect x="382.68" y="243.90" width="28.57" height="8.50"/>
<rect x="411.25" y="245.90" width="28.57" height="6.50"/>
<rect x="439.82" y="251.40" width="28.57" height="1.00"/>
<rect x="468.39" y="248.90" width="28.57" height="3.50"/>
<rect x="496.96" y="244.60" width="28.57" height="7.80"/>
<rect x="525.53" y="162.10" width="28.57" height="90.30"/>
<rect x="554.10" y="214.90" width="28.57" height="37.50"/>
<rect x="582.67" y="159.70" width="28.57" height="92.70"/>
<rect x="611.24" y="143.70" width="28.57" height="108.70"/>
<rect x="639.81" y="159.70" width="28.57" height="92.70"/>
<rect x="668.38" y="230.10" width="28.57" height="22.30"/>
<rect x="696.95" y="238.60" width="28.57" height="13.80"/>
<rect x="725.52" y="222.90" width="28.57" height="29.50"/>
<rect x="754.09" y="131.40" width="28.57" height="121.00"/>
<rect x="782.66" y="223.90" width="28.57" height="28.50"/>
<rect x="811.23" y="181.70" width="28.57" height="70.70"/>
<rect x="839.80" y="202.10" width="28.57" height="50.30"/>
<rect x="868.37" y="169.70" width="28.57" height="82.70"/>
<rect x="896.94" y="181.40" width="28.57" height="71.00"/>
<rect x="925.51" y="55.40" width="28.57" height="197.00"/>
<rect x="954.08" y="145.60" width="28.57" height="106.80"/>
<rect x="982.65" y="147.60" width="28.57" height="104.80"/>
<rect x="1011.22" y="204.10" width="28.57" height="48.30"/>
<rect x="1039.79" y="233.10" width="28.57" height="19.30"/>
<rect x="1068.36" y="239.60" width="28.57" height="12.80"/>
<rect x="1096.93" y="245.40" width="28.57" height="7.00"/>
<rect x="1125.50" y="243.10" width="28.57" height="9.30"/>
<rect x="1154.07" y="245.40" width="28.57" height="7.00"/>
<rect x="1182.64" y="249.60" width="28.57" height="2.80"/>
<rect x="1211.21" y="251.60" width="28.57" height="0.80"/>
<rect x="1239.78" y="251.60" width="28.57" height="0.80"/>
<rect x="1268.35" y="251.60" width="28.57" height="0.80"/>
<rect x="1296.92" y="251.50" width="28.57" height="0.90"/>
<rect x="1325.49" y="250.80" width="28.57" height="1.60"/>
<rect x="1354.06" y="251.70" width="28.57" height="0.70"/>
<rect x="1382.63" y="251.80" width="28.57" height="0.60"/>
<rect x="1411.20" y="251.90" width="28.57" height="0.50"/>
</g>
<g fill="#5799c7" stroke="#000" stroke-width="2.05" stroke-linejoin="miter">
<rect x="1543.50" y="524.80" width="4.70" height="20.48"/>
<rect x="1543.50" y="545.28" width="3.00" height="20.48"/>
<rect x="1543.50" y="565.76" width="1.00" height="20.48"/>
<rect x="1543.50" y="586.24" width="12.30" height="20.48"/>
<rect x="1543.50" y="606.72" width="11.00" height="20.48"/>
<rect x="1543.50" y="627.20" width="30.30" height="20.48"/>
<rect x="1543.50" y="647.68" width="56.30" height="20.48"/>
<rect x="1543.50" y="668.16" width="67.30" height="20.48"/>
<rect x="1543.50" y="688.64" width="58.30" height="20.48"/>
<rect x="1543.50" y="709.12" width="46.30" height="20.48"/>
<rect x="1543.50" y="729.60" width="31.30" height="20.48"/>
<rect x="1543.50" y="750.08" width="13.00" height="20.48"/>
<rect x="1543.50" y="770.56" width="62.30" height="20.48"/>
<rect x="1543.50" y="791.04" width="58.00" height="20.48"/>
<rect x="1543.50" y="811.52" width="201.70" height="20.48"/>
<rect x="1543.50" y="832.00" width="81.30" height="20.48"/>
<rect x="1543.50" y="852.48" width="60.00" height="20.48"/>
<rect x="1543.50" y="872.96" width="94.30" height="20.48"/>
<rect x="1543.50" y="893.44" width="78.30" height="20.48"/>
<rect x="1543.50" y="913.92" width="126.30" height="20.48"/>
<rect x="1543.50" y="934.40" width="160.30" height="20.48"/>
<rect x="1543.50" y="954.88" width="150.00" height="20.48"/>
<rect x="1543.50" y="975.36" width="171.30" height="20.48"/>
<rect x="1543.50" y="995.84" width="158.00" height="20.48"/>
<rect x="1543.50" y="1016.32" width="150.00" height="20.48"/>
<rect x="1543.50" y="1036.80" width="181.70" height="20.48"/>
<rect x="1543.50" y="1057.28" width="89.00" height="20.48"/>
<rect x="1543.50" y="1077.76" width="100.30" height="20.48"/>
<rect x="1543.50" y="1098.24" width="44.30" height="20.48"/>
<rect x="1543.50" y="1118.72" width="18.70" height="20.48"/>
<rect x="1543.50" y="1139.20" width="21.00" height="20.48"/>
<rect x="1543.50" y="1159.68" width="26.30" height="20.48"/>
<rect x="1543.50" y="1180.16" width="13.00" height="20.48"/>
<rect x="1543.50" y="1200.64" width="23.30" height="20.48"/>
<rect x="1543.50" y="1221.12" width="49.30" height="20.48"/>
<rect x="1543.50" y="1241.60" width="19.00" height="20.48"/>
<rect x="1543.50" y="1262.08" width="16.30" height="20.48"/>
<rect x="1543.50" y="1282.56" width="9.70" height="20.48"/>
<rect x="1543.50" y="1303.04" width="148.70" height="20.48"/>
<rect x="1543.50" y="1323.52" width="7.00" height="20.48"/>
<rect x="1543.50" y="1344.00" width="21.30" height="20.48"/>
<rect x="1543.50" y="1364.48" width="23.70" height="20.48"/>
<rect x="1543.50" y="1384.96" width="11.30" height="20.48"/>
<rect x="1543.50" y="1405.44" width="5.30" height="20.48"/>
<rect x="1543.50" y="1425.92" width="1.30" height="20.48"/>
</g>
<g fill="none" stroke-width="4.17" stroke-dasharray="15.42 6.67">
<path d="M361.0 1630.8V321.7" stroke="pink"/>
<path d="M513.0 1630.8V321.7" stroke="violet"/>
<path d="M636.0 1630.8V321.7" stroke="brown"/>
<path d="M768.0 1630.8V321.7" stroke="blue"/>
<path d="M805.0 1630.8V321.7" stroke="orange"/>
<path d="M907.0 1630.8V321.7" stroke="skyblue"/>
<path d="M943.0 1630.8V321.7" stroke="red"/>
<path d="M969.0 1630.8V321.7" stroke="gray"/>
<path d="M1057.0 1630.8V321.7" stroke="green"/>
<path d="M183.3 586.0H1483.3" stroke="gray"/>
<path d="M183.3 677.0H1483.3" stroke="green"/>
<path d="M183.3 854.0H1483.3" stroke="red"/>
<path d="M183.3 917.0H1483.3" stroke="orange"/>
<path d="M183.3 950.0H1483.3" stroke="skyblue"/>
<path d="M183.3 987.0H1483.3" stroke="blue"/>
<path d="M183.3 1091.0H1483.3" stroke="brown"/>
<path d="M183.3 1305.0H1483.3" stroke="violet"/>
<path d="M183.3 1370.0H1483.3" stroke="pink"/>
</g>
<g fill="none" stroke="#000" stroke-width="3.33" stroke-linecap="square">
<path d="M183.5 321.7V1630.8H1483.3"/>
<path d="M183.5 45.4V252.4H1483.3"/>
<path d="M1543.5 321.7V1630.8H1755.3"/>
</g>
<g fill="none" stroke="#000" stroke-width="3.33">
<path d="M264.40 1630.80v14.9"/>
<path d="M264.40 252.40v14.9"/>
<path d="M426.95 1630.80v14.9"/>
<path d="M426.95 252.40v14.9"/>
<path d="M589.50 1630.80v14.9"/>
<path d="M589.50 252.40v14.9"/>
<path d="M752.05 1630.80v14.9"/>
<path d="M752.05 252.40v14.9"/>
<path d="M914.60 1630.80v14.9"/>
<path d="M914.60 252.40v14.9"/>
<path d="M1077.15 1630.80v14.9"/>
<path d="M1077.15 252.40v14.9"/>
<path d="M1239.70 1630.80v14.9"/>
<path d="M1239.70 252.40v14.9"/>
<path d="M1402.25 1630.80v14.9"/>
<path d="M1402.25 252.40v14.9"/>
<path d="M183.50 1537.60h-14.9"/>
<path d="M1543.50 1537.60h-14.9"/>
<path d="M183.50 1350.40h-14.9"/>
<path d="M1543.50 1350.40h-14.9"/>
<path d="M183.50 1163.20h-14.9"/>
<path d="M1543.50 1163.20h-14.9"/>
<path d="M183.50 976.00h-14.9"/>
<path d="M1543.50 976.00h-14.9"/>
<path d="M183.50 788.80h-14.9"/>
<path d="M1543.50 788.80h-14.9"/>
<path d="M183.50 601.60h-14.9"/>
<path d="M1543.50 601.60h-14.9"/>
<path d="M183.50 414.40h-14.9"/>
<path d="M1543.50 414.40h-14.9"/>
<path d="M183.50 252.40h-14.9"/>
<path d="M183.50 102.50h-14.9"/>
<path d="M1543.50 1630.80v14.9"/>
<path d="M1683.25 1630.80v14.9"/>
</g>
<text transform="translate(264.40 1691.60) scale(1.045 1)" font-size="44.8" text-anchor="middle">120</text>
<text transform="translate(426.95 1691.60) scale(1.045 1)" font-size="44.8" text-anchor="middle">125</text>
<text transform="translate(589.50 1691.60) scale(1.045 1)" font-size="44.8" text-anchor="middle">130</text>
<text transform="translate(752.05 1691.60) scale(1.045 1)" font-size="44.8" text-anchor="middle">135</text>
<text transform="translate(914.60 1691.60) scale(1.045 1)" font-size="44.8" text-anchor="middle">140</text>
<text transform="translate(1077.15 1691.60) scale(1.045 1)" font-size="44.8" text-anchor="middle">145</text>
<text transform="translate(1239.70 1691.60) scale(1.045 1)" font-size="44.8" text-anchor="middle">150</text>
<text transform="translate(1402.25 1691.60) scale(1.045 1)" font-size="44.8" text-anchor="middle">155</text>
<text transform="translate(153.40 1552.90) scale(1.045 1)" font-size="44.8" text-anchor="end">20</text>
<text transform="translate(153.40 1365.70) scale(1.045 1)" font-size="44.8" text-anchor="end">25</text>
<text transform="translate(153.40 1178.50) scale(1.045 1)" font-size="44.8" text-anchor="end">30</text>
<text transform="translate(153.40 991.30) scale(1.045 1)" font-size="44.8" text-anchor="end">35</text>
<text transform="translate(153.40 804.10) scale(1.045 1)" font-size="44.8" text-anchor="end">40</text>
<text transform="translate(153.40 616.90) scale(1.045 1)" font-size="44.8" text-anchor="end">45</text>
<text transform="translate(153.40 429.70) scale(1.045 1)" font-size="44.8" text-anchor="end">50</text>
<text transform="translate(153.00 117.70) scale(1.045 1)" font-size="44.8" text-anchor="end">1000</text>
<text transform="translate(153.80 267.40) scale(1.045 1)" font-size="44.8" text-anchor="end">0</text>
<text transform="translate(1543.30 1691.60) scale(1.045 1)" font-size="44.8" text-anchor="middle">0</text>
<text transform="translate(1683.00 1691.60) scale(1.045 1)" font-size="44.8" text-anchor="middle">500</text>
<text x="832.7" y="1747.6" font-size="39.7" text-anchor="middle">経度</text>
<text transform="translate(77 978.8) rotate(-90)" font-size="39.7" text-anchor="middle">緯度</text>
</svg></body></html>
